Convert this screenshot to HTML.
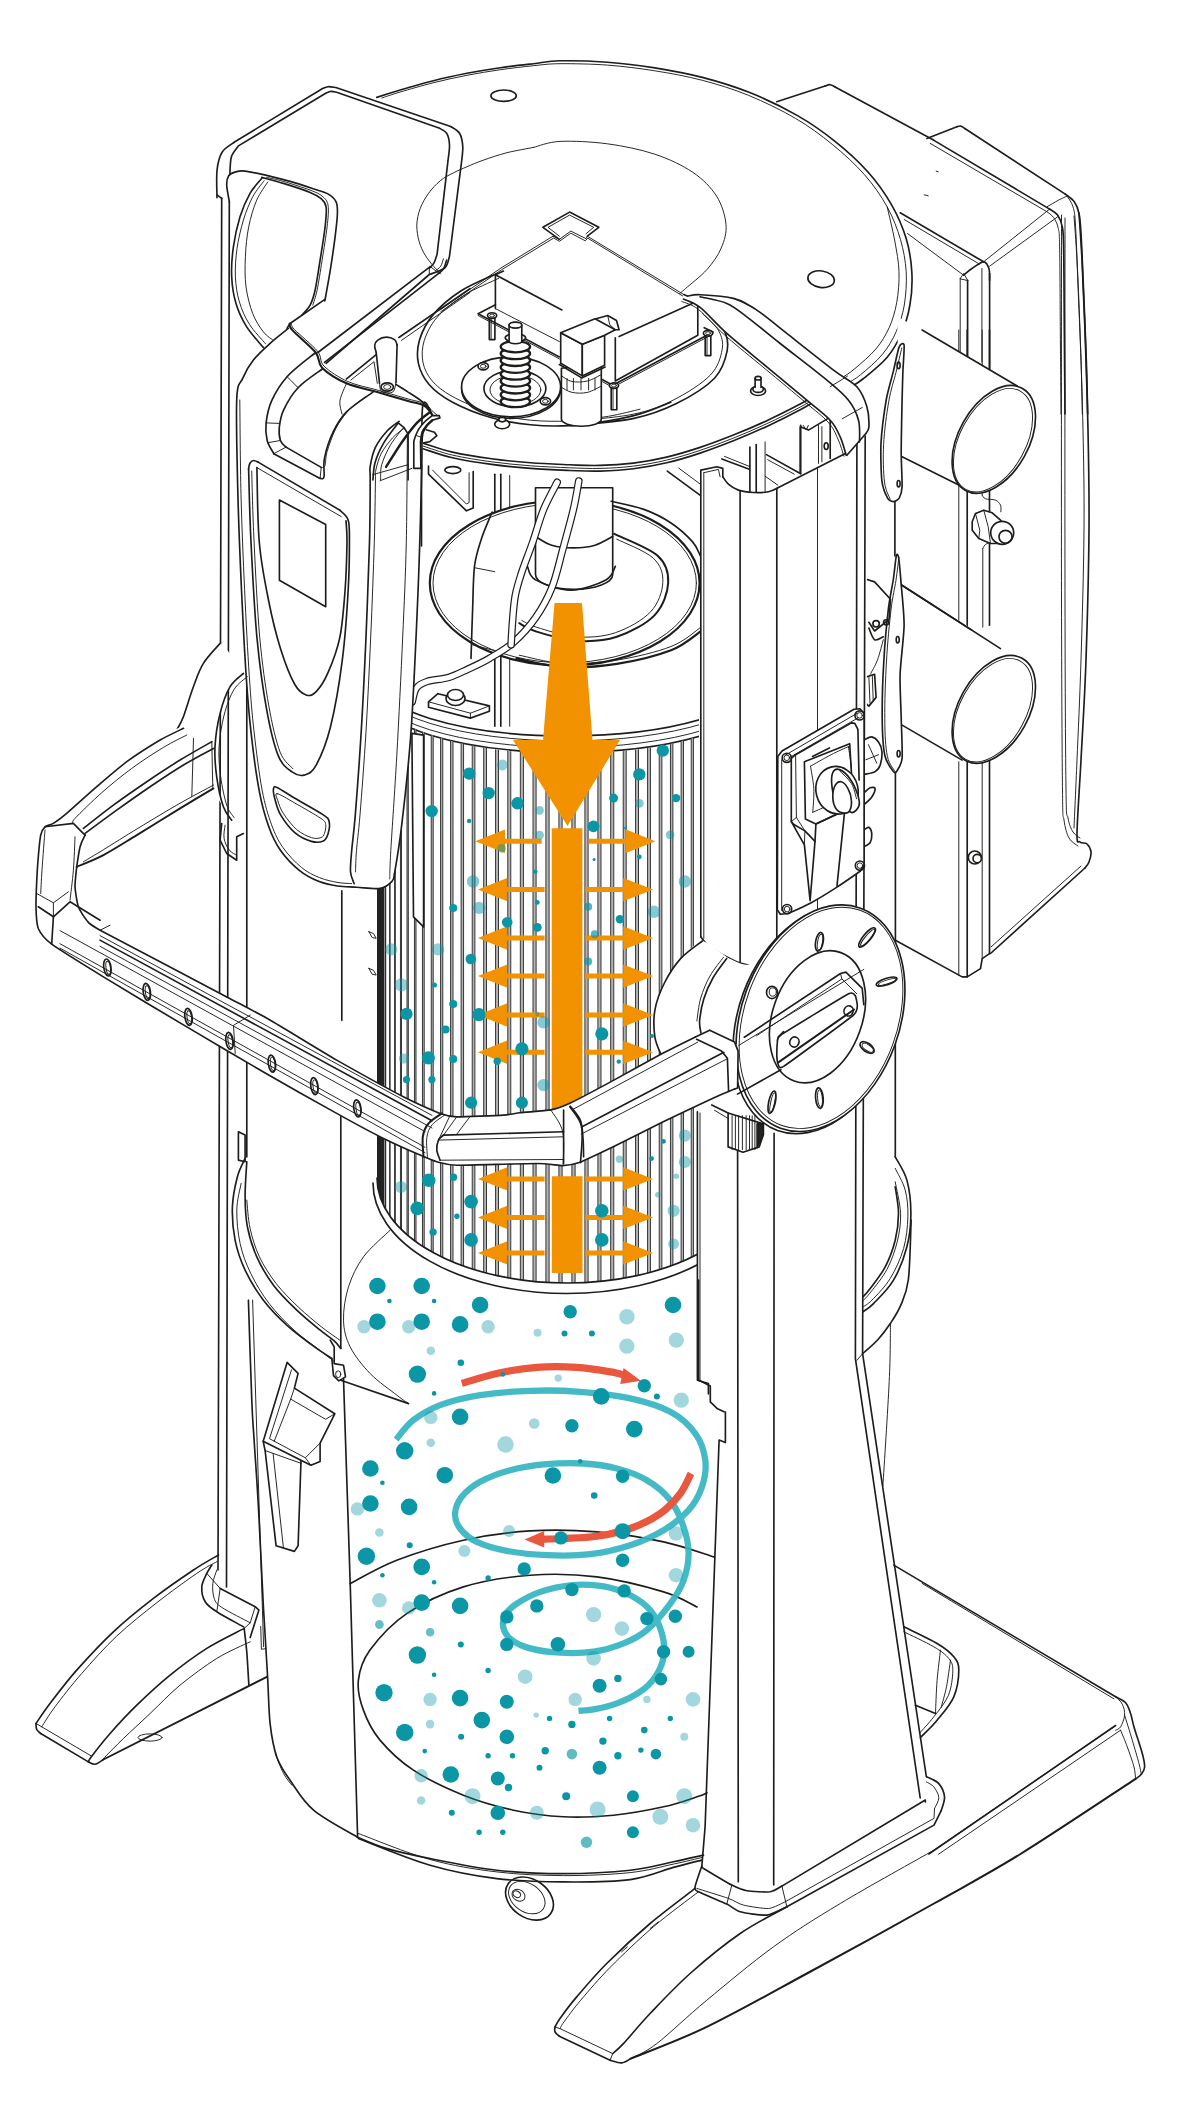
<!DOCTYPE html>
<html><head><meta charset="utf-8"><title>Filter cleaning diagram</title>
<style>
html,body{margin:0;padding:0;background:#fff}
svg{display:block}
.k{fill:none;stroke:#1d1d1b;stroke-width:1.65;stroke-linecap:round;stroke-linejoin:round}
.t{fill:none;stroke:#1d1d1b;stroke-width:0.95;stroke-linecap:round;stroke-linejoin:round}
.w{fill:#fff;stroke:#1d1d1b;stroke-width:1.65;stroke-linecap:round;stroke-linejoin:round}
.wt{fill:#fff;stroke:#1d1d1b;stroke-width:0.95;stroke-linecap:round;stroke-linejoin:round}
.wn{fill:#fff;stroke:none}
.o{fill:#f39200;stroke:none}
</style></head><body>
<svg width="1181" height="2126" viewBox="0 0 1181 2126">
<rect width="1181" height="2126" fill="#fff"/>
<g id="10_base">
<path class="k" d="M218.5 1555C214.3 1557.5 204.3 1562.8 193.5 1570C182.6 1577.3 166.8 1588.1 153.4 1598.4C140.1 1608.7 126.2 1619.8 113.4 1631.8C100.6 1643.7 87.3 1658.2 76.7 1670.1C66.1 1682.1 56.8 1694.6 50 1703.5C43.2 1712.4 38.3 1720.2 36 1723.5"/>
<path class="k" d="M36 1723.5C36.1 1724.5 35.9 1727.8 36.7 1729.5C37.5 1731.2 40 1732.8 40.7 1733.5"/>
<path class="k" d="M40.7 1733.5L88.4 1761.9"/>
<path class="k" d="M88.4 1761.9C89.5 1762.3 92.6 1764.6 95.1 1764.2C97.6 1763.8 102 1760.3 103.4 1759.5"/>
<path class="t" d="M216.8 1561.7C213.5 1563.6 206.8 1566.5 196.8 1573.4C186.8 1580.2 170.1 1592.3 156.8 1602.7C143.4 1613.2 129.3 1624.3 116.7 1636.1C104.2 1647.9 92 1661.7 81.7 1673.5C71.4 1685.2 61.7 1697.9 55 1706.8C48.4 1715.7 43.9 1723.5 41.7 1726.8"/>
<path class="t" d="M41.7 1726.8L91.7 1756.2"/>
<path class="t" d="M36 1723.5L41.7 1726.8"/>
<path class="k" d="M244.2 1628.4C238 1631.8 219.2 1640.7 206.8 1648.4C194.5 1656.2 181.8 1665.7 170.1 1675.1C158.4 1684.6 146.8 1695.4 136.8 1705.2C126.8 1714.9 117.6 1725 110.1 1733.5C102.6 1742 95.3 1751.5 91.7 1756.2C88.1 1760.9 88.9 1760.9 88.4 1761.9"/>
<path class="t" d="M250.2 1641.8C244.6 1644.5 228.5 1651.2 216.8 1658.4C205.2 1665.7 191.3 1676 180.1 1685.1C169 1694.3 159.6 1704.6 150.1 1713.5C140.7 1722.4 130.6 1731.6 123.4 1738.5C116.2 1745.5 110.4 1751.5 106.7 1755.2C103.1 1758.9 102.6 1759.9 101.7 1760.9"/>
<path class="k" d="M103.4 1759.5L266.9 1676.8" style="stroke-width:1.9"/>
<ellipse class="t" cx="150.1" cy="1737.5" rx="12" ry="3.6"/>
<path class="k" d="M211.8 1565C211 1566.4 208.5 1569.8 206.8 1573.4C205.2 1577 202.1 1582 201.8 1586.7C201.5 1591.4 202.7 1597.6 205.2 1601.7C207.7 1605.9 210.4 1607.6 216.8 1611.7C223.2 1615.9 239.1 1624.3 243.5 1626.8"/>
<path class="t" d="M216.8 1570C216.2 1572.3 213.3 1578.7 212.8 1583.4C212.4 1588.1 212.7 1594.4 214.2 1598.4C215.7 1602.4 215.8 1603.3 221.8 1607.4C227.8 1611.5 245.5 1620.2 250.2 1622.8"/>
<path class="k" d="M220.2 1588.4L255.2 1606.7L258.9 1610.1L250.2 1637.4"/>
<path class="t" d="M206.8 1573.4L220.2 1588.4L216.8 1611.7"/>
<path class="k" d="M244.2 1628.4C244.6 1632.6 246.1 1644 246.9 1653.4C247.6 1662.9 248.5 1679.9 248.9 1685.1"/>
<path class="t" d="M255.2 1606.7L250.2 1622.8L244.2 1628.4"/>
<path class="k" d="M893.8 1565.1L1115.6 1696.8"/>
<path class="t" d="M922.1 1583.4L1113.9 1698.8"/>
<path class="k" d="M1115.6 1696.8C1117.3 1697.8 1123.1 1700.1 1125.6 1702.8C1128.1 1705.6 1129.2 1709.5 1130.6 1713.5C1132 1717.5 1132 1720.2 1134 1726.9C1135.9 1733.5 1140.5 1746.9 1142.3 1753.5C1144.1 1760.2 1144.8 1763.4 1144.6 1766.9C1144.5 1770.3 1142.8 1772.2 1141.3 1774.2C1139.8 1776.2 1136.6 1778.1 1135.6 1778.9"/>
<path class="t" d="M1115.6 1696.8C1116.7 1698.1 1120.8 1701.1 1122.3 1704.2C1123.8 1707.2 1124.9 1711.4 1124.6 1715.2C1124.3 1719 1122.1 1724.4 1120.6 1726.9C1119.1 1729.4 1116.4 1729.6 1115.6 1730.2"/>
<path class="k" d="M1115.6 1725.5L928.8 1854"/>
<path class="t" d="M1120.6 1730.2L938.8 1854"/>
<path class="t" d="M1120.6 1730.2C1121.7 1733 1125.1 1740.8 1127.3 1746.9C1129.5 1753 1132.6 1761.6 1134 1766.9C1135.3 1772.2 1135.3 1776.9 1135.6 1778.9"/>
<path class="t" d="M1124.6 1715.2C1125.9 1719.3 1129.9 1732.1 1132.3 1740.2C1134.7 1748.3 1137.5 1757.9 1139 1763.6C1140.5 1769.2 1140.9 1772.4 1141.3 1774.2"/>
<path class="k" d="M903.8 1626.8C909.3 1629.6 928.8 1638.4 937.1 1643.5C945.5 1648.5 950.2 1652.3 953.8 1656.8C957.4 1661.2 958.8 1663.5 958.8 1670.1C958.8 1676.8 957.4 1688.5 953.8 1696.8C950.2 1705.2 942.7 1713.4 937.1 1720.2C931.6 1727 923.2 1734.6 920.4 1737.5"/>
<path class="t" d="M903.8 1631.8C908.8 1634.3 926.3 1642.3 933.8 1646.8C941.3 1651.2 945.6 1654.5 948.8 1658.5C952 1662.5 952.9 1664.7 952.8 1670.8C952.7 1676.9 951.6 1687.5 948.5 1695.2C945.3 1702.8 938.6 1710.6 933.8 1716.8C929 1723.1 922.1 1730.2 919.8 1732.9"/>
<path class="k" d="M915.4 1705.2L935.5 1713.5"/>
<path class="t" d="M940.5 1650.1C939.9 1655.1 938 1669.6 937.1 1680.2C936.3 1690.7 935.7 1708 935.5 1713.5"/>
<path class="t" d="M950.5 1660.1C949.8 1664.6 948 1678.9 946.5 1686.8C944.9 1694.7 942 1704.1 941.1 1707.5"/>
<path class="k" d="M695.1 1888.4C687.6 1894.3 664.8 1911 650.1 1923.5C635.4 1936 619 1951.3 606.7 1963.5C594.5 1975.7 584.5 1987.7 576.7 1996.9C568.9 2006 563.6 2013.5 560 2018.5C556.4 2023.6 555.8 2025.5 555 2026.9"/>
<path class="k" d="M555 2026.9C555 2027.7 554.3 2030.3 555 2031.9C555.7 2033.5 558.6 2035.5 559.3 2036.2"/>
<path class="k" d="M559.3 2036.2L610.1 2060.3"/>
<path class="k" d="M610.1 2060.3C612 2060.7 618.3 2063.2 621.7 2062.9C625.2 2062.6 629.2 2059.3 630.7 2058.6"/>
<path class="t" d="M698.5 1891.8C691 1897.6 668.1 1914.3 653.4 1926.8C638.8 1939.3 622.8 1954.6 610.7 1966.8C598.6 1979.1 588.5 1991 580.7 2000.2C572.9 2009.4 567.5 2017.2 564 2021.9C560.6 2026.6 560.7 2027.4 560 2028.6"/>
<path class="t" d="M555 2026.9L560 2028.6L612.7 2053.6L610.1 2060.3"/>
<path class="k" d="M786.9 1906.8C779.1 1911.2 756.3 1922.4 740.2 1933.5C724 1944.6 705.1 1960.2 690.1 1973.5C675.1 1986.9 661.2 2001.9 650.1 2013.5C639 2025.2 629.6 2036.9 623.4 2043.6C617.2 2050.2 614.5 2051.9 612.7 2053.6"/>
<path class="t" d="M934 1850.1C918.4 1859 867 1887.3 840.3 1903.5C813.5 1919.6 795.8 1930.7 773.5 1946.8C751.3 1962.9 726.3 1984.1 706.8 2000.2C687.3 2016.3 669.4 2033.8 656.8 2043.6C644.1 2053.3 635.1 2056.1 630.7 2058.6"/>
<path class="k" d="M630.7 2058.6C643.4 2053.3 677.4 2041.1 706.8 2026.9C736.2 2012.7 769 1994.1 806.9 1973.5C844.8 1952.9 898.4 1923.4 934 1903.5C969.6 1883.5 986.9 1874.7 1020.5 1854C1054.1 1833.2 1116.4 1791.4 1135.6 1778.9" style="stroke-width:2"/>
<path class="t" d="M650.1 1928.5L658.4 1921.8"/>
<path class="t" d="M621.7 1951.8L627.4 1946.8"/>
<path class="t" d="M934 1850.1L1115.6 1725.5"/>
<path class="t" d="M938.7 1854.1L938.8 1854"/>
</g>
<g id="12_topright">
<path class="k" d="M926.9 138.4L956.9 126.7"/>
<path class="k" d="M956.9 126.7C957.5 126.6 959.5 125.7 960.9 126.1C962.3 126.4 964.5 128.3 965.2 128.7"/>
<path class="k" d="M965.2 128.7L1065.3 194.1"/>
<path class="k" d="M1065.3 194.1C1066.8 195.4 1072 198.6 1074.3 201.8C1076.6 205 1077.9 208.2 1079 213.5C1080.1 218.7 1080.2 220.1 1081 233.5C1081.8 246.8 1082.8 272.4 1083.7 293.5C1084.5 314.7 1085.7 340.2 1086.3 360.3C1087 380.3 1087.4 405 1087.7 414"/>
<path class="t" d="M1047 206.8C1048.9 205.7 1055.3 201.9 1058.6 200.1C1062 198.3 1065.6 196.8 1067 196.1"/>
<path class="t" d="M1067 196.1C1068 197.9 1071.5 201.7 1073 206.8C1074.4 211.9 1074.8 212.3 1075.6 226.8C1076.5 241.3 1077.4 271.3 1078.3 293.5C1079.2 315.8 1080.3 340.2 1081 360.3C1081.7 380.3 1082.1 405 1082.3 414"/>
<path class="k" d="M933.5 140.1L1049.6 209.1"/>
<path class="t" d="M930.2 143.4L1047 211.8"/>
<path class="k" d="M1049.6 209.1C1051 210.1 1055.5 212.2 1057.6 215.1C1059.7 218.1 1061.3 221.5 1062.3 226.8C1063.3 232.1 1063.3 230.1 1063.6 246.8C1064 263.5 1064.1 299 1064.3 326.9C1064.5 354.7 1064.9 399.4 1065 414"/>
<path class="t" d="M1047 211.8C1048.1 212.7 1051.7 214.7 1053.6 217.5C1055.5 220.2 1057.3 223.6 1058.3 228.5C1059.3 233.4 1059.3 230.4 1059.6 246.8C1060 263.2 1060.1 299 1060.3 326.9C1060.5 354.7 1060.9 399.4 1061 414"/>
<path class="k" d="M776.7 101.7L825.1 86"/>
<path class="k" d="M825.1 86C825.9 85.8 828.4 84.5 830.1 84.7C831.8 84.9 834.3 86.6 835.1 87"/>
<path class="k" d="M835.1 87L933.5 140.1"/>
<path class="k" d="M900.2 212.8L983.6 261.8"/>
<path class="t" d="M904.2 219.5L979.6 264.2"/>
<path class="t" d="M907.5 233.5L963.6 275.2"/>
<path class="t" d="M983.6 261.8L1049.6 209.1"/>
<path class="t" d="M989.6 266.2L1057.6 216.8"/>
<path class="k" d="M963.6 275.2C964.9 274.1 968.6 270.7 971.9 268.5C975.2 266.3 980.7 261.8 983.6 261.8C986.4 261.8 987.9 265.4 988.9 268.5C989.9 271.6 989.5 278.2 989.6 280.2"/>
<path class="t" d="M960.2 278.5L963.6 273.5L967.6 280.2Z"/>
<path class="t" d="M960.2 278.5L960.2 361.9"/>
<path class="k" d="M967.6 280.2L967.6 361.9"/>
<path class="t" d="M981.9 268.5L981.9 361.9"/>
<path class="k" d="M989.6 273.5L989.6 368.6"/>
<path class="t" d="M936.2 171.1L938.2 171.8"/>
<path class="t" d="M924.2 194.8L928.2 195.8"/>
<path class="k" d="M376.8 97.4C380.7 96.1 390.7 92.8 400.2 90C409.6 87.2 422.4 83.5 433.5 80.7C444.6 77.9 455.8 75.5 466.9 73.3C478 71.2 489.1 69.3 500.3 67.7C511.4 66.1 523.7 64.8 533.6 63.7C543.6 62.5 547.7 61.1 560 60.8C572.3 60.6 591.6 61.1 607.4 62.2C623.2 63.4 639 65.4 654.8 67.9C670.6 70.5 686.4 73.3 702.3 77.4C718.1 81.5 733.9 86.3 749.7 92.6C765.5 98.9 782.9 107.2 797.1 115.4C811.3 123.5 823.2 131.9 835 141.4C846.9 150.9 858.7 161.6 868.2 172.3C877.7 182.9 885.6 194.4 891.9 205.4C898.2 216.5 902.8 227.6 906.2 238.6C909.5 249.7 911.2 260.8 911.8 271.8C912.5 282.9 911.7 294.8 909.9 305C908.2 315.3 905.2 324.8 901.4 333.5C897.6 342.2 893.5 349.7 887.2 357.2C880.9 364.7 869.8 373.4 863.5 378.5C857.2 383.7 851.6 386.4 849.3 388"/>
<path class="t" d="M381.8 98C384.9 97 391.5 94.6 400.2 92C408.8 89.5 422.4 85.5 433.5 82.7C444.6 79.9 455.8 77.5 466.9 75.3C478 73.2 489.1 71.3 500.3 69.7C511.4 68.1 523.7 66.7 533.6 65.7C543.6 64.7 547.7 63.8 560 63.7C572.3 63.6 591.6 63.9 607.4 65.1C623.2 66.3 639 68.3 654.8 70.8C670.6 73.3 686.6 76.2 702.3 80.3C717.9 84.4 733.2 89.1 748.7 95.4C764.2 101.8 781.3 110.1 795.2 118.2C809.1 126.3 820.6 134.9 832.2 144.3C843.7 153.7 855.3 164.2 864.4 174.6C873.6 185.1 881.2 196 887.2 206.9C893.2 217.7 897.3 228.8 900.5 239.6C903.6 250.4 905.5 260.9 906.2 271.8C906.8 282.7 905.9 295.1 904.3 305C902.6 315 899.8 323.4 896.2 331.6C892.6 339.8 888.4 347.1 882.4 354.3C876.5 361.5 866.6 369.8 860.6 374.7C854.7 379.6 849.2 382.2 846.9 383.7"/>
<path class="t" d="M887.2 206.9C888.4 212.6 892.8 230.2 894.8 241C896.7 251.8 898.7 261.6 899 271.8C899.4 282.1 898.3 293.3 896.7 302.7C895 312 892.6 320 889.1 327.8C885.6 335.5 881.5 342.3 875.8 349.1C870.1 355.9 860.6 363.7 854.9 368.6C849.3 373.4 843.9 376.5 841.7 378"/>
<path class="t" d="M533.6 147.4C538 146.4 547.7 142 560 141.4C572.3 140.8 591.6 141.7 607.4 143.8C623.2 145.9 640.6 149.5 654.8 154.2C669.1 159 682.5 165.3 692.8 172.3C703 179.2 710.9 187.3 716.5 196C722 204.7 725.2 215.7 726 224.4C726.8 233.1 724.4 240.6 721.2 248.1C718.1 255.6 712.9 262.7 707 269.5C701.1 276.2 690.2 284.4 685.7 288.4C681.1 292.5 680.5 292.8 679.5 293.6"/>
<ellipse class="k" cx="821.1" cy="279.2" rx="13.3" ry="8.3" transform="rotate(8 821.1 279.2)"/>
</g>
<g id="14_rightmid">
<path class="t" d="M958.8 330L958.8 630.3"/>
<path class="k" d="M967.2 330L967.2 630.3"/>
<path class="t" d="M982.2 330L982.2 495.1"/>
<path class="k" d="M989.5 330L989.5 636.9"/>
<path class="t" d="M982.2 495.1C982.7 495.7 983.3 498 985.5 498.8C987.7 499.6 993 499.1 995.5 500.1C998 501.2 999.6 503.2 1000.5 505.1C1001.4 507.1 1000.8 510.7 1000.8 511.8"/>
<path class="t" d="M1000.8 543.5C998.6 543.5 990.2 542.7 987.2 543.5C984.2 544.3 983.6 547.7 982.8 548.5"/>
<path class="t" d="M982.8 548.5L982.8 633.6"/>
<path class="wn" d="M897.1 316.7L922.1 330L1017.2 386.7L1035.5 413.4L968.8 490.1L900.4 456.1Z"/>
<path class="k" d="M922.1 330L1017.2 386"/>
<path class="k" d="M902.1 456.8L968.8 490.1"/>
<ellipse class="w" cx="993.8" cy="439.4" rx="58.4" ry="35" transform="rotate(-61 993.8 439.4)"/>
<ellipse class="t" cx="993" cy="440.2" rx="56.2" ry="32.8" transform="rotate(-61 993 440.2)"/>
<path class="w" d="M972.2 521.8L975.5 513.5L983.8 510.2L992.2 512.8L1000.5 520.2L1005.5 526.8L1000.5 543.5L990.5 543.5L978.8 538.5L972.2 530.2Z"/>
<path class="t" d="M975.5 513.5L979.8 530.2L978.8 538.5"/>
<path class="t" d="M983.8 510.2L988.2 526.8L990.5 543.5"/>
<ellipse class="w" cx="1002.2" cy="532.8" rx="11.5" ry="11.5"/>
<ellipse class="k" cx="1005.5" cy="536.8" rx="6.5" ry="6.5"/>
<path class="wn" d="M900.4 583.5L987.2 638.6L1020.5 660.3L1040.5 697L900.4 697Z"/>
<path class="k" d="M900.4 584.2L1000.5 648.6"/>
<path class="k" d="M1079 213C1079.5 220.8 1081 240.5 1082 260C1083 279.5 1084 301.7 1085 330C1086 358.3 1087.3 396.7 1088 430C1088.7 463.3 1089.3 491.7 1089 530C1088.7 568.3 1087.3 621.7 1086 660C1084.7 698.3 1082.5 731.2 1081 760C1079.5 788.8 1077.2 819.3 1077 833C1076.8 846.7 1078.3 840.2 1080 842C1081.7 843.8 1085.2 842.3 1087 844C1088.8 845.7 1090.7 849 1091 852C1091.3 855 1090 859.3 1089 862C1088 864.7 1085.7 867 1085 868"/>
<path class="t" d="M1074 216C1074.5 223.3 1076 241 1077 260C1078 279 1079 301.7 1080 330C1081 358.3 1082.3 396.7 1083 430C1083.7 463.3 1084.3 491.7 1084 530C1083.7 568.3 1082.2 621.7 1081 660C1079.8 698.3 1078.2 732 1077 760C1075.8 788 1074.5 816.7 1074 828"/>
<path class="k" d="M1085 868L990.5 953.5"/>
<path class="t" d="M1081 866L991 947"/>
<path class="t" d="M1061.5 215C1061.5 279.2 1061.3 504.2 1061.5 600C1061.7 695.8 1062.1 753.3 1062.5 790C1062.9 826.7 1062.9 812 1064 820C1065.1 828 1066.7 833.7 1069 838C1071.3 842.3 1076.5 844.7 1078 846"/>
<path class="t" d="M1065 218C1065 281.7 1064.8 504.7 1065 600C1065.2 695.3 1065.5 753.7 1066 790C1066.5 826.3 1066.8 811 1068 818C1069.2 825 1071 828.7 1073 832C1075 835.3 1078.8 837 1080 838"/>
<path class="k" d="M895.4 770.1L895.4 940.2L962.1 976.9L967.2 976.9L980.5 968.6L982.2 958.6L989.5 953.6"/>
<path class="t" d="M958.8 761.8L958.8 975.3"/>
<path class="k" d="M967.2 761.8L967.2 976.9"/>
<path class="t" d="M982.2 760.1L982.2 958.6"/>
<path class="k" d="M989.5 760.1L989.5 953.6"/>
<path class="wn" d="M902.1 725.1L902.1 646.7L1000.5 623.3L1035.5 683.4L967.2 760.1Z"/>
<path class="k" d="M902.1 725.1L962.1 760.1"/>
<path class="k" d="M900.4 584.2L1000.5 648.6"/>
<ellipse class="w" cx="993.8" cy="709.4" rx="58.4" ry="35" transform="rotate(-61 993.8 709.4)"/>
<ellipse class="t" cx="993" cy="710.2" rx="56.2" ry="32.8" transform="rotate(-61 993 710.2)"/>
<ellipse class="w" cx="974.8" cy="857.5" rx="6.5" ry="6.5"/>
<ellipse class="w" cx="977.2" cy="858.5" rx="4.2" ry="4.2"/>
</g>
<g id="20_topleft">
<path class="k" d="M217 197.7C217 193.2 216.2 178.1 217 170.5C217.8 162.9 219.1 156.9 222.1 152.2C225 147.4 232.5 143.7 234.5 142L322.2 88.7L322.2 88.7C323.1 88.4 325.7 86.9 328 86.7C330.3 86.5 334.5 87.4 335.8 87.5L450.7 126.5L450.7 126.5C452.2 127.6 457.6 130 459.7 133.5C461.7 136.9 462.5 141.9 462.8 147.1C463 152.3 461.5 161.7 461.2 164.6L449.5 256.2L449.5 256.2C448.8 258.1 448.2 264.8 444.9 267.9C441.5 270.9 431.9 273.4 429.3 274.5L326.1 363.3"/>
<path class="k" d="M229.9 174.4C230.1 171.5 230 161.6 231.4 156.8C232.8 152.1 237.3 147.8 238.4 145.9L326.1 93L326.1 93C326.9 92.7 329.4 91.5 331.1 91.4C332.9 91.3 335.7 92.1 336.6 92.2L439 128L439 128C440.3 128.9 445.1 130.6 446.8 133.5C448.6 136.3 449.3 140.6 449.5 145.2C449.7 149.7 448.2 158.1 448 160.7L437.1 254.2L437.1 254.2C436.6 255.7 435.3 260.5 434 262.8C432.7 265.1 430.1 267.3 429.3 268.2"/>
<path class="t" d="M429.3 268.2L429.3 274.5"/>
<path class="k" d="M229.4 201.8C228.9 199 226.8 189.4 226.7 185.1C226.6 180.8 227.3 177.9 228.7 175.8C230.1 173.6 232.3 172.9 235 172.1C237.8 171.3 239.8 170.5 245 171.1C250.3 171.6 259.2 173.7 266.7 175.4C274.2 177.2 282.3 179.2 290.1 181.4C297.9 183.7 307 186.7 313.4 188.8C319.8 190.9 324.7 191.9 328.4 194.1C332.2 196.3 334.6 198.6 336.1 201.8C337.6 205 337.6 207.6 337.4 213.5C337.3 219.3 336.2 227.9 335.1 236.8C334 245.7 332.2 257.9 330.8 266.8C329.4 275.7 327.8 284.5 326.8 290.2C325.8 295.9 325.1 299.1 324.8 300.9"/>
<path class="k" d="M261.7 177.4C265.3 178.4 275.3 180.9 283.4 183.4C291.5 185.9 303.9 189.9 310.1 192.4C316.3 194.9 318.1 196.1 320.8 198.4C323.4 200.8 325.4 202.1 326.1 206.8C326.8 211.5 326.1 217.9 325.1 226.8C324.1 235.7 321.8 249.6 320.1 260.2C318.4 270.7 316.8 282.7 315.1 290.2C313.4 297.7 312.3 301 310.1 305.2C307.9 309.4 303.1 313.5 301.8 315.2"/>
<path class="t" d="M266.7 177.4C269.5 178.1 276.2 179.3 283.4 181.4C290.6 183.5 303.6 187.7 310.1 190.1C316.5 192.6 319.1 193.6 322.1 196.1C325.1 198.7 327.3 200.3 328.1 205.5C328.9 210.6 328.1 217.7 327.1 226.8C326.1 235.9 323.8 249.6 322.1 260.2C320.4 270.7 318.7 282.7 317.1 290.2C315.5 297.7 313.5 302.7 312.8 305.2"/>
<path class="k" d="M261.7 178.4C259.8 180.9 253.7 187.1 250 193.4C246.4 199.8 242.8 207.9 240 216.8C237.3 225.7 234.8 236.8 233.4 246.8C232 256.8 231.2 267.4 231.7 276.8C232.1 286.3 233.5 295.2 236 303.5C238.5 311.9 242.1 319.5 246.7 326.9C251.3 334.2 260.6 344.1 263.4 347.6"/>
<path class="t" d="M264.1 180.8C262.2 183.4 256.2 190.2 252.7 196.8C249.3 203.3 246 211.5 243.4 220.1C240.8 228.8 238.4 239 237 248.5C235.7 257.9 235 268 235.4 276.8C235.8 285.7 237 294 239.4 301.9C241.7 309.8 245 317.3 249.4 324.2C253.7 331.2 262.7 340.3 265.4 343.6"/>
<path class="t" d="M267.7 182.1C265.9 185.1 259.9 192.7 256.7 200.1C253.5 207.6 250.6 217.4 248.7 226.8C246.8 236.3 245.8 246.8 245.4 256.8C244.9 266.8 244.8 277.4 246 286.9C247.3 296.3 249.8 306 252.7 313.5C255.6 321.1 259.8 327.3 263.4 331.9C266.9 336.5 272.3 339.4 274.1 340.9"/>
<path class="k" d="M217.3 195.1L221.7 198.4"/>
</g>
<g id="21_filtertop">
<path class="k" d="M494.8 474.2L494.8 726.2"/>
<path class="k" d="M500.8 474.2L500.8 726.2"/>
<path class="t" d="M509.7 475.5L509.7 726.2"/>
<ellipse class="w" cx="564.7" cy="583.1" rx="134.9" ry="82.6" style="stroke-width:2.2"/>
<ellipse class="t" cx="564.7" cy="583.1" rx="131.7" ry="79.7"/>
<path class="k" d="M516.5 658.4C524.2 659.9 545.9 666.2 562.6 667.1C579.3 668 598.7 666.7 616.8 663.9C634.8 661.1 657 655.7 671 650.3C685 644.9 695.8 634.5 700.8 631.3" style="stroke-width:2.2"/>
<path class="t" d="M519.2 655.2C526.4 656.5 546.3 662.5 562.6 663.3C578.8 664.1 598.7 662.9 616.8 660.1C634.8 657.3 657 652 671 646.5C685 641.1 695.8 630.5 700.8 627.3"/>
<path class="k" d="M614.1 533.8C621.3 537.4 648.4 547.4 657.4 555.5C666.4 563.6 668.7 572.6 668.2 582.6C667.8 592.5 663.3 606.1 654.7 615.1C646.1 624.1 629.9 632.5 616.8 636.8C603.7 641.1 589.7 641.7 576.1 640.8C562.6 639.9 545 634.3 535.5 631.3C526 628.4 521.9 624.6 519.2 623.2" style="stroke-width:2"/>
<path class="t" d="M616.8 539.2C622.9 542.4 645.7 551 653.3 558.2C661 565.4 663.3 573.6 662.8 582.6C662.4 591.5 658.5 603.5 650.6 611.8C642.7 620.2 627.8 628.5 615.4 632.7C603 636.9 589.2 637.7 576.1 636.8C563 635.9 545.9 630 536.8 627.3C527.8 624.6 524.4 621.6 521.9 620.5"/>
<path class="w" d="M535.5 487.7L535.5 574.4A38.5 14.9 0 0 0 612.7 574.4L612.7 487.7Z"/>
<path class="k" d="M535.5 536.5C538.2 538 545.4 543.3 551.7 545.2C558.1 547.1 566.2 547.9 573.4 547.9C580.6 547.9 588.5 547.1 595.1 545.2C601.6 543.3 609.8 538 612.7 536.5"/>
<path class="k" d="M527.4 566.3C528.7 568.6 528.3 575.9 535.5 579.9C542.7 583.8 559 590.2 570.7 590.2C582.4 590.2 598.5 583.8 605.9 579.9C613.4 575.9 613.8 568.6 615.4 566.3"/>
<path class="k" d="M611.3 501.3C616.8 502.6 633.9 505.8 643.9 509.4C653.8 513 662.8 517.5 671 523C679.1 528.4 687.8 536.5 692.6 541.9C697.5 547.4 699 553.2 700.2 555.5"/>
<path class="k" d="M492.1 512.1C490.3 516.6 484.2 530.2 481.3 539.2C478.4 548.3 476 554.6 474.5 566.3C473.1 578.1 473.2 594.3 472.6 609.7C472 625 471.3 650.3 471 658.4"/>
<path class="t" d="M474.5 567.7L494.8 571.7"/>
<path class="t" d="M472.6 644.9L493.5 650.3"/>
<path class="k" d="M578.8 481C577.9 485.7 576.1 497.9 573.4 509.4C570.7 520.9 566.2 537 562.6 550.1C559 563.2 556.3 576.7 551.7 588C547.2 599.3 541.8 608.8 535.5 617.8C529.2 626.8 521.5 635.4 513.8 642.2C506.1 649 497.1 653.9 489.4 658.4C481.7 663 474.5 666.1 467.7 669.3C461 672.4 455.5 675.4 448.8 677.4C442 679.4 432.5 679.7 427.1 681.5C421.7 683.3 418.7 684.9 416.3 688.2C413.8 691.6 412.9 699.5 412.2 701.8" style="stroke-width:7.6"/>
<path class="k" d="M578.8 481C577.9 485.7 576.1 497.9 573.4 509.4C570.7 520.9 566.2 537 562.6 550.1C559 563.2 556.3 576.7 551.7 588C547.2 599.3 541.8 608.8 535.5 617.8C529.2 626.8 521.5 635.4 513.8 642.2C506.1 649 497.1 653.9 489.4 658.4C481.7 663 474.5 666.1 467.7 669.3C461 672.4 455.5 675.4 448.8 677.4C442 679.4 432.5 679.7 427.1 681.5C421.7 683.3 418.7 684.9 416.3 688.2C413.8 691.6 412.9 699.5 412.2 701.8" style="stroke:#fff;stroke-width:5.2"/>
<path class="k" d="M557.2 482.3C554.9 486.8 547.7 499.5 543.6 509.4C539.5 519.4 536.4 531.5 532.8 541.9C529.2 552.3 524.9 562.7 521.9 571.7C519 580.8 516.7 587.5 515.2 596.1C513.6 604.7 513.1 615.1 512.4 623.2C511.8 631.3 511.3 641.3 511.1 644.9" style="stroke-width:7.6"/>
<path class="k" d="M557.2 482.3C554.9 486.8 547.7 499.5 543.6 509.4C539.5 519.4 536.4 531.5 532.8 541.9C529.2 552.3 524.9 562.7 521.9 571.7C519 580.8 516.7 587.5 515.2 596.1C513.6 604.7 513.1 615.1 512.4 623.2C511.8 631.3 511.3 641.3 511.1 644.9" style="stroke:#fff;stroke-width:5.2"/>
<path class="k" d="M428.5 466.1L428.5 474.2L466.4 510.8L473.2 508.1L473.2 471.5"/>
<path class="t" d="M432.5 470.1L466.4 504L469.1 502.6L469.1 472.8"/>
<ellipse class="k" cx="452.8" cy="470.1" rx="8" ry="3.5"/>
<path class="w" d="M428.5 701.8L437.9 693.7L489.4 705.9L489.4 711.3L470.4 718.1L428.5 707.2Z"/>
<path class="t" d="M428.5 701.8L470.4 713.2L489.4 705.9"/>
<path class="t" d="M470.4 713.2L470.4 718.1"/>
<ellipse class="w" cx="455.5" cy="698.5" rx="9.5" ry="7"/>
<ellipse class="w" cx="455.5" cy="695" rx="8" ry="5.5"/>
<clipPath id="rimclip"><rect x="411" y="690" width="288" height="80"/></clipPath>
<path class="k" d="M373 676 A194 60 0 0 0 761 676" clip-path="url(#rimclip)"/>
<path class="t" d="M373 681 A194 60 0 0 0 761 681" clip-path="url(#rimclip)"/>
<path class="t" d="M373 687.5 A194 60 0 0 0 761 687.5" clip-path="url(#rimclip)"/>
<path class="k" d="M373 692.5 A194 60 0 0 0 761 692.5" clip-path="url(#rimclip)"/>
</g>
<g id="22_topcenter">
<ellipse class="k" cx="503.6" cy="95.7" rx="12.7" ry="5.7"/>
<path class="t" d="M533.6 147.4C529.2 148.3 515.3 150.6 506.9 152.7C498.6 154.9 490.2 157.7 483.6 160.1C476.9 162.4 471.9 164.6 466.9 166.8C461.9 168.9 458 170.4 453.5 172.8C449.1 175.1 444.4 177.3 440.2 180.8C436 184.2 431.9 188.8 428.5 193.4C425.2 198.1 422.1 203.2 420.2 208.5C418.2 213.7 417 219.6 416.8 225.1C416.7 230.7 417.8 236.8 419.2 241.8C420.6 246.8 422.8 251.1 425.2 255.2C427.6 259.2 430.9 263.1 433.5 266.2C436.1 269.2 439.6 272.3 440.9 273.5"/>
<path class="t" d="M440 309.9L501 268L553 236.2L559.4 239.3L570.8 231.1L586.1 238.7L587.3 236.2L683.9 294.6"/>
<path class="t" d="M440.8 311.6L501.7 269.7L553.8 238L559.4 241.3L570.8 233.2L585.3 240.8L587.8 238.2L682.6 295.9"/>
<path class="k" d="M559.4 239.3L542.9 227.3L569.6 212.1L598.8 227.3L587.3 236.2"/>
<path class="t" d="M559.4 236.2L548 227.3L569.6 215.1L593.7 227.3L586.1 233.7"/>
<path class="k" d="M496.3 273.7C490.3 276.6 471 284.4 460.4 291.2C449.9 298 440 306.5 433.2 314.6C426.4 322.7 422 331.8 419.5 339.9C417.1 348 416.8 355.8 418.4 363.3C420 370.7 423.6 378.2 429.3 384.7C435 391.2 442.3 396.7 452.6 402.2C463 407.8 478.6 414 491.6 417.8C504.6 421.6 517.6 423.5 530.5 424.8C543.5 426.1 556.5 426.3 569.5 425.6C582.5 425 596.7 422.9 608.4 420.9C620.2 419 629.6 417 640 413.9C650.4 410.8 665.6 404.2 670.8 402.2"/>
<path class="t" d="M498.6 278.4C492.8 281.2 473.8 289 463.6 295.5C453.3 302 443.6 309.8 437.1 317.3C430.5 324.9 426.6 333.2 424.2 340.7C421.9 348.2 421.6 355.6 423 362.5C424.5 369.4 427.7 376 433.2 382C438.6 388 445.8 393.1 455.8 398.3C465.8 403.5 480.7 409.5 493.2 413.1C505.6 416.8 517.8 418.9 530.5 420.2C543.3 421.4 556.5 421.6 569.5 420.9C582.5 420.3 596.7 418.2 608.4 416.3C620.2 414.3 634.7 410.4 640 409.2"/>
<path class="k" d="M570.5 425.6C581.1 424.4 616.4 422.1 634 418.4C651.7 414.7 663 410.3 676.4 403.6C689.8 396.9 706 387 714.5 378.2C722.9 369.4 725.6 358.8 727.2 350.7C728.7 342.5 727.3 336.2 723.8 329.5C720.2 322.8 709 313.6 706 310.4"/>
<path class="t" d="M570.5 421.4C581 420.2 616 417.8 633.2 414.2C650.4 410.6 661 406.3 673.8 399.8C686.7 393.3 702.2 383.5 710.2 375.2C718.3 366.9 720.7 357.2 722.1 349.8C723.5 342.4 721.9 336.8 718.7 330.8C715.5 324.8 705.3 316.6 702.6 313.8"/>
<ellipse class="w" cx="758.1" cy="390.9" rx="7.5" ry="4.6"/>
<ellipse class="w" cx="758.1" cy="389.2" rx="5.2" ry="3.2"/>
<path class="w" d="M755.1 387.5L755.1 378.2L761 378.2L761 387.5"/>
<ellipse class="w" cx="758.1" cy="378.2" rx="3" ry="1.8"/>
<path class="k" d="M495.4 308.6L495.4 274.8L503.5 271"/>
<path class="k" d="M495.4 274.8L561.9 309.9"/>
<path class="t" d="M495.4 308.6L559.4 341.6"/>
<path class="k" d="M619.1 336.5L697.8 301L697.8 335.3L615.3 381L615.3 337.8"/>
<path class="k" d="M683.9 294.6L697.8 301"/>
<path class="k" d="M495.4 304.8L478.1 313.7L559.4 356.9"/>
<path class="t" d="M478.1 315.5L559.4 358.9"/>
<path class="k" d="M602.6 379.7L612.7 385.3L713.1 332L704.2 327.7"/>
<path class="t" d="M602.6 381.8L612.7 387.3L713.1 334"/>
<ellipse class="w" cx="492.1" cy="315.5" rx="4.6" ry="2.8"/>
<ellipse class="t" cx="492.1" cy="315.5" rx="2.4" ry="1.5"/>
<path class="k" d="M489.3 318L489.3 339.6L494.9 339.6L494.9 318"/>
<path class="t" d="M491.1 318.5L491.1 339.6"/>
<ellipse class="w" cx="614" cy="385.6" rx="4.6" ry="2.8"/>
<ellipse class="t" cx="614" cy="385.6" rx="2.4" ry="1.5"/>
<path class="k" d="M611.2 388.1L611.2 409.7L616.8 409.7L616.8 388.1"/>
<path class="t" d="M613 388.6L613 409.7"/>
<ellipse class="w" cx="708" cy="333.2" rx="4.6" ry="2.8"/>
<ellipse class="t" cx="708" cy="333.2" rx="2.4" ry="1.5"/>
<path class="k" d="M705.2 335.8L705.2 355.6L710.8 355.6L710.8 335.8"/>
<path class="t" d="M707 336.3L707 355.6"/>
<ellipse class="k" cx="511.1" cy="388.4" rx="49.5" ry="30"/>
<ellipse class="w" cx="511.1" cy="386.8" rx="49.5" ry="30"/>
<ellipse class="k" cx="514.9" cy="388.6" rx="31" ry="18.3"/>
<ellipse class="t" cx="515.4" cy="389.9" rx="25.4" ry="14.7"/>
<ellipse class="w" cx="483.2" cy="366.3" rx="5.2" ry="3.6"/>
<ellipse class="t" cx="483.2" cy="366.3" rx="2.8" ry="1.9"/>
<ellipse class="w" cx="545.4" cy="401.3" rx="5.2" ry="3.6"/>
<ellipse class="t" cx="545.4" cy="401.3" rx="2.8" ry="1.9"/>
<ellipse class="w" cx="515.4" cy="401.6" rx="14.7" ry="5.6" style="stroke-width:2.3"/>
<ellipse class="w" cx="515.4" cy="394.7" rx="14.7" ry="5.6" style="stroke-width:2.3"/>
<ellipse class="w" cx="515.4" cy="387.9" rx="14.7" ry="5.6" style="stroke-width:2.3"/>
<ellipse class="w" cx="515.4" cy="381" rx="14.7" ry="5.6" style="stroke-width:2.3"/>
<ellipse class="w" cx="515.4" cy="374.1" rx="14.7" ry="5.6" style="stroke-width:2.3"/>
<ellipse class="w" cx="515.4" cy="367.3" rx="14.7" ry="5.6" style="stroke-width:2.3"/>
<ellipse class="w" cx="515.4" cy="360.4" rx="14.7" ry="5.6" style="stroke-width:2.3"/>
<ellipse class="w" cx="515.4" cy="353.6" rx="14.7" ry="5.6" style="stroke-width:2.3"/>
<ellipse class="w" cx="515.4" cy="346.7" rx="14.7" ry="5.6" style="stroke-width:2.3"/>
<ellipse class="w" cx="515.4" cy="337.8" rx="10.2" ry="4.1"/>
<path class="w" d="M509.1 325.1L509.1 341.6A6.4 2.5 0 0 0 521.8 341.6L521.8 325.1A6.4 3 0 0 0 509.1 325.1Z"/>
<ellipse class="w" cx="515.4" cy="325.1" rx="6.4" ry="3"/>
<path class="w" d="M561.4 368.3L561.4 419.1A19.8 7.1 0 0 0 601.3 419.1L601.3 363.2Z"/>
<path class="t" d="M561.4 387.3C563.2 388.2 567.8 391.6 572.1 392.4C576.4 393.3 582.5 393.5 587.3 392.4C592.2 391.4 599 387.1 601.3 386.1"/>
<path class="t" d="M561.4 375.9C563.2 376.8 567.8 380.7 572.1 381.5C576.4 382.4 582.5 382.1 587.3 381C592.2 379.9 599 375.7 601.3 374.6"/>
<path class="t" d="M567 378.5L567 389.9"/>
<path class="t" d="M573.4 378.5L573.4 389.9"/>
<path class="t" d="M581 378.5L581 389.9"/>
<path class="t" d="M588.6 378.5L588.6 389.9"/>
<path class="t" d="M595 378.5L595 389.9"/>
<path class="w" d="M560.7 332.7L560.7 363.2L582.3 375.9L582.3 344.2Z"/>
<path class="w" d="M582.3 344.2L582.3 375.9L604.6 365.2L604.6 335.3Z"/>
<path class="w" d="M560.7 332.7L595 318.8L615.3 329.7L604.6 335.3L582.3 344.2Z"/>
<path class="k" d="M559.4 364.5L581.7 377.9L605.1 367"/>
<path class="k" d="M596.2 318.8L607.7 315.5L616.5 320.5L619.1 329.7L615.3 329.7"/>
<path class="t" d="M607.7 315.5L609.7 324.6L615.3 329.7"/>
<ellipse class="w" cx="502.2" cy="424.2" rx="7.5" ry="4.5"/>
<ellipse class="w" cx="502.2" cy="419.6" rx="3.5" ry="2.2"/>
</g>
<g id="23_drum">
<path class="k" d="M350 1583.6C357.8 1579.7 377.8 1567.5 396.7 1560.2C415.6 1553 441.2 1545.1 463.4 1540.2C485.7 1535.3 507.9 1532.3 530.2 1530.9C552.4 1529.5 574.6 1530 596.9 1531.9C619.1 1533.7 644.2 1537.7 663.6 1541.9C683.1 1546.1 705.3 1554.4 713.7 1556.9"/>
<path class="k" d="M697 1606.9C691.4 1604.4 680.3 1596.9 663.6 1591.9C646.9 1586.9 619.1 1579.7 596.9 1576.9C574.6 1574.1 552.4 1573.6 530.2 1575.2C507.9 1576.9 484 1580.5 463.4 1586.9C442.9 1593.3 422.3 1603.1 406.7 1613.6C391.2 1624.1 378.1 1639 370 1650C362 1661.1 359.5 1670.1 358.4 1680.1C357.2 1690.1 359.7 1700.1 363.4 1710.1C367 1720.1 371.7 1730.1 380 1740.1C388.4 1750.1 399.5 1761 413.4 1770.1C427.3 1779.3 446.8 1788.5 463.4 1795.2C480.1 1801.8 496.8 1806.6 513.5 1810.2C530.2 1813.8 546.8 1816 563.5 1816.8C580.2 1817.7 596.9 1816.8 613.6 1815.2C630.3 1813.5 649.7 1809.9 663.6 1806.8C677.5 1803.8 689.7 1799.2 697 1796.8C704.2 1794.5 705.3 1793.5 707 1792.8"/>
<path class="k" d="M356.9 1836.9C362 1838.9 374.8 1845 387 1848.6C399.2 1852.2 411.8 1854.9 430.1 1858.5C448.4 1862.2 474.6 1867.7 496.8 1870.2C519 1872.7 541.3 1873.6 563.5 1873.6C585.8 1873.6 611.9 1872.2 630.3 1870.2C648.6 1868.3 661.2 1864.3 673.4 1861.8C685.6 1859.2 698.5 1856.2 703.5 1855.1"/>
<path class="k" d="M358.4 1838.5C370.3 1843 407 1858.5 430.1 1865.2C453.2 1871.9 474.6 1875.8 496.8 1878.6C519 1881.3 541.3 1881.7 563.5 1881.9C585.8 1882.1 611.9 1882 630.3 1879.6C648.6 1877.2 661.5 1870.7 673.4 1867.4C685.4 1864.2 697.1 1861.3 701.8 1860.1"/>
<path class="t" d="M358.4 1833.5C370.3 1837.9 407 1853.2 430.1 1859.5C453.2 1865.9 474.6 1869.2 496.8 1871.9C519 1874.6 541.3 1875.5 563.5 1875.6C585.8 1875.7 611.9 1874.5 630.3 1872.6C648.6 1870.6 661.4 1866.6 673.4 1864.1C685.5 1861.6 697.6 1858.5 702.5 1857.4"/>
<path class="k" d="M248.4 1300.2C249 1316.8 250.8 1376.9 251.8 1400.3C252.7 1423.6 253 1422.3 254.1 1440C255.2 1457.7 256.9 1478.9 258.4 1506.7C260 1534.5 261.9 1579 263.4 1606.8C264.9 1634.6 266.3 1654.1 267.4 1673.5C268.6 1693 268.6 1709.7 270.1 1723.6C271.7 1737.5 273.5 1747.5 276.8 1756.9C280.1 1766.4 284 1771.4 290.1 1780.3C296.3 1789.2 302.4 1800.8 313.6 1810.2C324.7 1819.7 349.7 1832.5 356.9 1836.9"/>
<path class="t" d="M275.2 1753.5C276.6 1756.9 280.8 1768.3 283.6 1773.5C286.3 1778.8 290.5 1783.3 291.9 1785.2"/>
<path class="k" d="M343.5 1378.6L350.2 1583.5L357.6 1836.9"/>
<path class="t" d="M390.2 1230.1C385.8 1234.6 370.5 1247.3 363.5 1256.8C356.6 1266.2 351.9 1276.3 348.5 1286.8C345.2 1297.4 343.2 1310.2 343.5 1320.2C343.8 1330.2 345.7 1338 350.2 1346.9C354.6 1355.8 362.4 1365.5 370.2 1373.6C378 1381.6 390.5 1390.2 396.9 1395.2C403.3 1400.3 406.6 1402.2 408.6 1403.6"/>
<path class="k" d="M340.8 1380.2L408.6 1403.6"/>
<path class="k" d="M698.6 1280L698.6 1380.1L710.3 1386.1L710.3 1401.8L717 1408.4L724 1411.8L725.4 1412.1L725.4 1442.6L719.1 1440L705.1 1826.7L701.8 1866.8"/>
<ellipse class="k" cx="529.5" cy="1898.6" rx="26" ry="19" transform="rotate(35 529.5 1898.6)"/>
<ellipse class="t" cx="526.8" cy="1897.6" rx="20" ry="14" transform="rotate(35 526.8 1897.6)"/>
<ellipse class="t" cx="518.5" cy="1895.2" rx="7" ry="5.5" transform="rotate(35 518.5 1895.2)"/>
<ellipse class="t" cx="516.8" cy="1894.2" rx="4" ry="3" transform="rotate(35 516.8 1894.2)"/>
</g>
<g id="24_filter">
<clipPath id="fclip"><path d="M377 691 A190 63 0 0 0 757 691 L757 1178 A190 105 0 0 1 377 1178 Z"/></clipPath>
<g clip-path="url(#fclip)"><rect x="376.5" y="860" width="8" height="350" fill="#222"/><rect x="385" y="690" width="1.2" height="600" fill="#2a2a2a"/><rect x="389.1" y="690" width="1.5" height="600" fill="#2a2a2a"/><rect x="394.1" y="690" width="1.7" height="600" fill="#2a2a2a"/><rect x="400.4" y="690" width="1.1" height="600" fill="#b4b4b4" stroke="#262626" stroke-width="0.9"/><rect x="407" y="690" width="1.3" height="600" fill="#b4b4b4" stroke="#262626" stroke-width="0.9"/><rect x="414.4" y="690" width="1.6" height="600" fill="#b4b4b4" stroke="#262626" stroke-width="0.9"/><rect x="422.4" y="690" width="1.8" height="600" fill="#b4b4b4" stroke="#262626" stroke-width="0.9"/><rect x="431.2" y="690" width="2" height="600" fill="#b4b4b4" stroke="#262626" stroke-width="0.9"/><rect x="440.6" y="690" width="2.2" height="600" fill="#b4b4b4" stroke="#262626" stroke-width="0.9"/><rect x="450.6" y="690" width="2.4" height="600" fill="#b4b4b4" stroke="#262626" stroke-width="0.9"/><rect x="461.1" y="690" width="2.5" height="600" fill="#b4b4b4" stroke="#262626" stroke-width="0.9"/><rect x="472.2" y="690" width="2.7" height="600" fill="#b4b4b4" stroke="#262626" stroke-width="0.9"/><rect x="483.7" y="690" width="2.8" height="600" fill="#b4b4b4" stroke="#262626" stroke-width="0.9"/><rect x="495.6" y="690" width="2.9" height="600" fill="#b4b4b4" stroke="#262626" stroke-width="0.9"/><rect x="507.8" y="690" width="3" height="600" fill="#b4b4b4" stroke="#262626" stroke-width="0.9"/><rect x="520.3" y="690" width="3.1" height="600" fill="#b4b4b4" stroke="#262626" stroke-width="0.9"/><rect x="533" y="690" width="3.1" height="600" fill="#b4b4b4" stroke="#262626" stroke-width="0.9"/><rect x="545.9" y="690" width="3.2" height="600" fill="#b4b4b4" stroke="#262626" stroke-width="0.9"/><rect x="558.9" y="690" width="3.2" height="600" fill="#b4b4b4" stroke="#262626" stroke-width="0.9"/><rect x="571.9" y="690" width="3.2" height="600" fill="#b4b4b4" stroke="#262626" stroke-width="0.9"/><rect x="584.9" y="690" width="3.2" height="600" fill="#b4b4b4" stroke="#262626" stroke-width="0.9"/><rect x="597.9" y="690" width="3.1" height="600" fill="#b4b4b4" stroke="#262626" stroke-width="0.9"/><rect x="610.7" y="690" width="3.1" height="600" fill="#b4b4b4" stroke="#262626" stroke-width="0.9"/><rect x="623.2" y="690" width="3" height="600" fill="#b4b4b4" stroke="#262626" stroke-width="0.9"/><rect x="635.6" y="690" width="2.9" height="600" fill="#b4b4b4" stroke="#262626" stroke-width="0.9"/><rect x="647.6" y="690" width="2.8" height="600" fill="#b4b4b4" stroke="#262626" stroke-width="0.9"/><rect x="659.2" y="690" width="2.7" height="600" fill="#b4b4b4" stroke="#262626" stroke-width="0.9"/><rect x="670.4" y="690" width="2.5" height="600" fill="#b4b4b4" stroke="#262626" stroke-width="0.9"/><rect x="681.1" y="690" width="2.4" height="600" fill="#b4b4b4" stroke="#262626" stroke-width="0.9"/><rect x="691.2" y="690" width="2.2" height="600" fill="#b4b4b4" stroke="#262626" stroke-width="0.9"/></g>
<clipPath id="fclip2"><rect x="360" y="1100" width="337.4" height="220"/></clipPath>
<g clip-path="url(#fclip2)">
<path class="k" d="M377 1178 A190 105 0 0 0 757 1178"/>
<path class="k" d="M373 1183 A194 110.5 0 0 0 761 1183"/>
</g>
</g>
<g id="26_arrows">
<path class="o" d="M554.5 603L582 603L592.5 740L620 740L567.5 826L513 740L543 740Z"/>
<path class="o" d="M551.7 828.2L582.4 828.2L582.4 1140L551.7 1140Z"/>
<path class="o" d="M551.8 1176.2L582.5 1176.2L582.5 1273L551.8 1273Z"/>
<path class="o" d="M475.2 841.2L505 829.5L505 838.7L541.7 838.7L541.7 843.7L505 843.7L505 852.9Z"/>
<path class="o" d="M655.3 841.2L626 829.5L626 838.7L588.6 838.7L588.6 843.7L626 843.7L626 852.9Z"/>
<path class="o" d="M477.9 889.6L507.2 877.9L507.2 887.1L544.6 887.1L544.6 892.1L507.2 892.1L507.2 901.3Z"/>
<path class="o" d="M653.1 889.6L623.2 877.9L623.2 887.1L585.3 887.1L585.3 892.1L623.2 892.1L623.2 901.3Z"/>
<path class="o" d="M477.9 938L507.2 926.3L507.2 935.5L544.6 935.5L544.6 940.5L507.2 940.5L507.2 949.7Z"/>
<path class="o" d="M653.1 938L623.2 926.3L623.2 935.5L585.3 935.5L585.3 940.5L623.2 940.5L623.2 949.7Z"/>
<path class="o" d="M477.9 976.1L507.2 964.4L507.2 973.6L544.6 973.6L544.6 978.6L507.2 978.6L507.2 987.8Z"/>
<path class="o" d="M653.1 976.1L623.2 964.4L623.2 973.6L585.3 973.6L585.3 978.6L623.2 978.6L623.2 987.8Z"/>
<path class="o" d="M477.9 1015L507.2 1003.3L507.2 1012.5L544.6 1012.5L544.6 1017.5L507.2 1017.5L507.2 1026.7Z"/>
<path class="o" d="M653.1 1015L623.2 1003.3L623.2 1012.5L585.3 1012.5L585.3 1017.5L623.2 1017.5L623.2 1026.7Z"/>
<path class="o" d="M477.9 1052.3L507.2 1040.6L507.2 1049.8L544.6 1049.8L544.6 1054.8L507.2 1054.8L507.2 1064Z"/>
<path class="o" d="M653.1 1052.3L623.2 1040.6L623.2 1049.8L585.3 1049.8L585.3 1054.8L623.2 1054.8L623.2 1064Z"/>
<path class="o" d="M477.9 1178.9L507.2 1167.2L507.2 1176.4L544.6 1176.4L544.6 1181.4L507.2 1181.4L507.2 1190.6Z"/>
<path class="o" d="M653.1 1178.9L623.2 1167.2L623.2 1176.4L585.3 1176.4L585.3 1181.4L623.2 1181.4L623.2 1190.6Z"/>
<path class="o" d="M477.9 1217.4L507.2 1205.7L507.2 1214.9L544.6 1214.9L544.6 1219.9L507.2 1219.9L507.2 1229.1Z"/>
<path class="o" d="M653.1 1217.4L623.2 1205.7L623.2 1214.9L585.3 1214.9L585.3 1219.9L623.2 1219.9L623.2 1229.1Z"/>
<path class="o" d="M477.9 1252.9L507.2 1241.2L507.2 1250.4L544.6 1250.4L544.6 1255.4L507.2 1255.4L507.2 1264.6Z"/>
<path class="o" d="M653.1 1252.9L623.2 1241.2L623.2 1250.4L585.3 1250.4L585.3 1255.4L623.2 1255.4L623.2 1264.6Z"/>
</g>
<g id="27_spiral">
<path class="k" d="M396.1 1439.5C398.9 1436.2 406.1 1425.8 413.4 1420.1C420.7 1414.4 429 1409.3 440.1 1405.1C451.2 1400.9 465.1 1397.5 480.1 1395.1C495.1 1392.7 513.5 1391.3 530.2 1390.8C546.8 1390.2 563.5 1390.5 580.2 1391.8C596.9 1393 615.2 1395.1 630.3 1398.4C645.3 1401.8 659.4 1405.9 670.3 1411.8C681.1 1417.6 689.5 1425.4 695.3 1433.5C701.1 1441.5 704.2 1451.3 705.3 1460.2C706.4 1469 704.8 1478.5 702 1486.8C699.2 1495.2 695 1503 688.6 1510.2C682.2 1517.4 673.3 1524.4 663.6 1530.2C653.9 1536 642.5 1541.2 630.3 1545.2C618 1549.2 604.1 1552.6 590.2 1554.2C576.3 1555.9 560.7 1555.8 546.8 1555.2C532.9 1554.7 518.5 1553.1 506.8 1550.9C495.1 1548.7 484.6 1545.6 476.8 1541.9C469 1538.2 463.7 1533.3 460.1 1528.5C456.5 1523.8 454.8 1518.8 455.1 1513.5C455.4 1508.2 457.6 1502.1 461.8 1496.8C465.9 1491.6 472.1 1486.3 480.1 1481.8C488.2 1477.4 499 1473.1 510.2 1470.2C521.3 1467.2 534.6 1465.3 546.8 1464.2C559.1 1463 571.9 1462.8 583.5 1463.5C595.2 1464.2 606.3 1465.7 616.9 1468.5C627.5 1471.3 638 1474.9 646.9 1480.2C655.8 1485.4 664.2 1492.4 670.3 1500.2C676.4 1508 680.6 1518 683.6 1526.9C686.7 1535.8 688.6 1544.7 688.6 1553.6C688.6 1562.5 686.7 1571.9 683.6 1580.3C680.6 1588.6 676.4 1595.3 670.3 1603.6C664.2 1611.9 654.7 1623.4 646.9 1630C639.1 1636.7 632.5 1639.8 623.6 1643.4C614.7 1647 604.1 1650.2 593.6 1651.7C583 1653.3 570.8 1653.3 560.2 1652.7C549.6 1652.2 538.2 1650.5 530.2 1648.4C522.1 1646.3 516.3 1643.4 511.8 1640C507.4 1636.7 504.6 1632.5 503.5 1628.4C502.4 1624.2 502.9 1619.1 505.1 1615C507.4 1610.9 511 1607.5 516.8 1603.6C522.7 1599.8 531.3 1595 540.2 1591.9C549.1 1588.9 559.6 1586.2 570.2 1585.3C580.8 1584.3 593.6 1584.6 603.6 1586.3C613.6 1587.9 622.5 1591.3 630.3 1595.3C638 1599.3 645 1603.9 650.3 1610.3C655.5 1616.6 659.7 1625.6 661.9 1633.4C664.2 1641.1 664.7 1649.5 663.6 1656.7C662.5 1663.9 659.2 1670.9 655.3 1676.7C651.4 1682.6 646.7 1687.3 640.3 1691.7C633.9 1696.2 624.7 1700.5 616.9 1703.4C609.1 1706.4 599.9 1708.2 593.6 1709.4C587.2 1710.6 581 1710.5 578.5 1710.8" style="stroke:#35b4c2;stroke-width:6.3;stroke-opacity:0.92;stroke-linecap:butt"/>
<path class="k" d="M461.8 1383.4C467.6 1381.8 484.3 1376.1 496.8 1373.4C509.3 1370.7 523.5 1368.4 536.8 1367.4C550.2 1366.4 564.1 1366.6 576.9 1367.4C589.7 1368.2 605.2 1371 613.6 1372.4C621.9 1373.9 624.7 1375.5 626.9 1376.1" style="stroke:#e9573f;stroke-width:7.2;stroke-linecap:butt"/>
<path class="k" d="M640.9 1380.8L623.6 1368.1L620.2 1384.1Z" style="fill:#e9573f;stroke:none"/>
<path class="k" d="M691 1473.5C689.2 1476.8 685.4 1486.8 680.3 1493.5C675.2 1500.2 668.6 1507.7 660.3 1513.5C651.9 1519.4 640.8 1524.8 630.3 1528.5C619.7 1532.3 608 1534.5 596.9 1536.2C585.8 1537.9 572.7 1538 563.5 1538.5C554.4 1539 545.5 1539.1 541.8 1539.2" style="stroke:#e9573f;stroke-width:7.2;stroke-linecap:butt"/>
<path class="k" d="M524.5 1539.5L544.2 1530.9L544.2 1547.6Z" style="fill:#e9573f;stroke:none"/>
</g>
<g id="28_dots">
<circle cx="377.4" cy="1286" r="8.3" fill="#0b96a5"/>
<circle cx="421.7" cy="1286" r="8.3" fill="#0b96a5"/>
<circle cx="389.4" cy="1301" r="2.3" fill="#0b96a5"/>
<circle cx="434.1" cy="1301" r="2.3" fill="#0b96a5"/>
<circle cx="480.1" cy="1305" r="8.3" fill="#0b96a5"/>
<circle cx="570.2" cy="1311.7" r="6.7" fill="#0b96a5"/>
<circle cx="673" cy="1305" r="8.3" fill="#0b96a5"/>
<circle cx="377.4" cy="1321.7" r="8.3" fill="#0b96a5"/>
<circle cx="421.7" cy="1321.7" r="8.3" fill="#0b96a5"/>
<circle cx="460.1" cy="1324.4" r="8.3" fill="#0b96a5"/>
<circle cx="564.5" cy="1333.4" r="3" fill="#0b96a5"/>
<circle cx="591.9" cy="1333.4" r="3" fill="#0b96a5"/>
<circle cx="460.8" cy="1362.7" r="3.3" fill="#0b96a5"/>
<circle cx="417.4" cy="1374.1" r="8.7" fill="#0b96a5"/>
<circle cx="502.8" cy="1374.4" r="2.3" fill="#0b96a5"/>
<circle cx="644.3" cy="1385.8" r="6.7" fill="#0b96a5"/>
<circle cx="434.1" cy="1393.4" r="2.3" fill="#0b96a5"/>
<circle cx="656.9" cy="1396.4" r="3" fill="#0b96a5"/>
<circle cx="601.2" cy="1396.4" r="8.3" fill="#0b96a5"/>
<circle cx="460.1" cy="1416.8" r="8.3" fill="#0b96a5"/>
<circle cx="571.9" cy="1425.8" r="6.7" fill="#0b96a5"/>
<circle cx="634.3" cy="1429.1" r="8.3" fill="#0b96a5"/>
<circle cx="404.7" cy="1450.8" r="8.7" fill="#0b96a5"/>
<circle cx="370.4" cy="1468.5" r="8.3" fill="#0b96a5"/>
<circle cx="444.8" cy="1475.2" r="8.3" fill="#0b96a5"/>
<circle cx="580.2" cy="1461.2" r="2.3" fill="#0b96a5"/>
<circle cx="552.9" cy="1475.5" r="8.3" fill="#0b96a5"/>
<circle cx="622.6" cy="1476.2" r="6.7" fill="#0b96a5"/>
<circle cx="382.4" cy="1482.8" r="2.3" fill="#0b96a5"/>
<circle cx="594.2" cy="1495.5" r="3.3" fill="#0b96a5"/>
<circle cx="370.4" cy="1503.5" r="8.3" fill="#0b96a5"/>
<circle cx="409.1" cy="1506.9" r="8.3" fill="#0b96a5"/>
<circle cx="622.6" cy="1531.2" r="8" fill="#0b96a5"/>
<circle cx="560.9" cy="1537.9" r="6.7" fill="#0b96a5"/>
<circle cx="409.7" cy="1545.2" r="3" fill="#0b96a5"/>
<circle cx="366.4" cy="1556.2" r="8.7" fill="#0b96a5"/>
<circle cx="622.6" cy="1560.2" r="6.7" fill="#0b96a5"/>
<circle cx="421.7" cy="1566.9" r="8.3" fill="#0b96a5"/>
<circle cx="524.2" cy="1568.9" r="6.7" fill="#0b96a5"/>
<circle cx="382.4" cy="1575.2" r="2.3" fill="#0b96a5"/>
<circle cx="488.1" cy="1577.9" r="2.7" fill="#0b96a5"/>
<circle cx="434.1" cy="1582.3" r="2.3" fill="#0b96a5"/>
<circle cx="571.9" cy="1589.6" r="6.7" fill="#0b96a5"/>
<circle cx="624.2" cy="1590.9" r="6.7" fill="#0b96a5"/>
<circle cx="421.7" cy="1602.6" r="8.3" fill="#0b96a5"/>
<circle cx="460.1" cy="1605.9" r="8.3" fill="#0b96a5"/>
<circle cx="536.8" cy="1605.9" r="6.7" fill="#0b96a5"/>
<circle cx="506.8" cy="1616.9" r="6.7" fill="#0b96a5"/>
<circle cx="675.3" cy="1616.3" r="6.7" fill="#0b96a5"/>
<circle cx="646.9" cy="1618.6" r="6.7" fill="#0b96a5"/>
<circle cx="364" cy="1326.7" r="6.7" fill="#0b96a5" fill-opacity="0.38"/>
<circle cx="408.7" cy="1326.7" r="6.7" fill="#0b96a5" fill-opacity="0.38"/>
<circle cx="488.1" cy="1326.7" r="6.7" fill="#0b96a5" fill-opacity="0.38"/>
<circle cx="537.5" cy="1332.7" r="4" fill="#0b96a5" fill-opacity="0.38"/>
<circle cx="626.9" cy="1316.7" r="7.7" fill="#0b96a5" fill-opacity="0.38"/>
<circle cx="626.9" cy="1346.1" r="7.7" fill="#0b96a5" fill-opacity="0.38"/>
<circle cx="676.3" cy="1340.1" r="7.7" fill="#0b96a5" fill-opacity="0.38"/>
<circle cx="430.8" cy="1350.7" r="4.3" fill="#0b96a5" fill-opacity="0.38"/>
<circle cx="558.2" cy="1378.1" r="3.7" fill="#0b96a5" fill-opacity="0.38"/>
<circle cx="681.3" cy="1400.1" r="7.7" fill="#0b96a5" fill-opacity="0.38"/>
<circle cx="430.8" cy="1417.4" r="6.7" fill="#0b96a5" fill-opacity="0.38"/>
<circle cx="534.2" cy="1423.5" r="5.3" fill="#0b96a5" fill-opacity="0.38"/>
<circle cx="505.5" cy="1444.5" r="8.3" fill="#0b96a5" fill-opacity="0.38"/>
<circle cx="430.8" cy="1442.8" r="4.3" fill="#0b96a5" fill-opacity="0.38"/>
<circle cx="357.4" cy="1508.9" r="6.7" fill="#0b96a5" fill-opacity="0.38"/>
<circle cx="379.4" cy="1532.5" r="4.3" fill="#0b96a5" fill-opacity="0.38"/>
<circle cx="509.1" cy="1530.9" r="6" fill="#0b96a5" fill-opacity="0.38"/>
<circle cx="464.4" cy="1550.9" r="6" fill="#0b96a5" fill-opacity="0.38"/>
<circle cx="676" cy="1533.5" r="7.3" fill="#0b96a5" fill-opacity="0.38"/>
<circle cx="676" cy="1575.2" r="7.3" fill="#0b96a5" fill-opacity="0.38"/>
<circle cx="379.4" cy="1600.3" r="7.3" fill="#0b96a5" fill-opacity="0.38"/>
<circle cx="408.7" cy="1607.9" r="6.7" fill="#0b96a5" fill-opacity="0.38"/>
<circle cx="593.6" cy="1614.6" r="7.7" fill="#0b96a5" fill-opacity="0.38"/>
<circle cx="379.4" cy="1624.6" r="4.3" fill="#0b96a5" fill-opacity="0.38"/>
<circle cx="621.9" cy="1628.6" r="7.3" fill="#0b96a5" fill-opacity="0.38"/>
<circle cx="430.1" cy="1632" r="4" fill="#0b96a5" fill-opacity="0.38"/>
<circle cx="460.8" cy="1644.4" r="3" fill="#0b96a5"/>
<circle cx="506.8" cy="1644.4" r="6.7" fill="#0b96a5"/>
<circle cx="557.9" cy="1644.4" r="7.3" fill="#0b96a5"/>
<circle cx="417.4" cy="1655" r="8.7" fill="#0b96a5"/>
<circle cx="663.6" cy="1651.7" r="6.7" fill="#0b96a5"/>
<circle cx="688.6" cy="1651.7" r="6" fill="#0b96a5"/>
<circle cx="488.1" cy="1670.4" r="2.7" fill="#0b96a5"/>
<circle cx="434.1" cy="1674.7" r="2.3" fill="#0b96a5"/>
<circle cx="617.9" cy="1678.4" r="3.7" fill="#0b96a5"/>
<circle cx="660.9" cy="1679.1" r="6.3" fill="#0b96a5"/>
<circle cx="599.6" cy="1685.7" r="7" fill="#0b96a5"/>
<circle cx="384" cy="1692.7" r="8.7" fill="#0b96a5"/>
<circle cx="460.1" cy="1698.1" r="8.3" fill="#0b96a5"/>
<circle cx="506.8" cy="1701.8" r="7" fill="#0b96a5"/>
<circle cx="549.5" cy="1718.4" r="2.7" fill="#0b96a5"/>
<circle cx="609.6" cy="1718.4" r="2.7" fill="#0b96a5"/>
<circle cx="670.3" cy="1718.4" r="2.7" fill="#0b96a5"/>
<circle cx="481.8" cy="1720.1" r="8.3" fill="#0b96a5"/>
<circle cx="571.9" cy="1724.4" r="3.7" fill="#0b96a5"/>
<circle cx="644.3" cy="1730.1" r="3.3" fill="#0b96a5"/>
<circle cx="404.7" cy="1732.4" r="8.7" fill="#0b96a5"/>
<circle cx="461.1" cy="1736.8" r="3" fill="#0b96a5"/>
<circle cx="506.8" cy="1736.8" r="7.3" fill="#0b96a5"/>
<circle cx="602.9" cy="1741.1" r="3.7" fill="#0b96a5"/>
<circle cx="545.2" cy="1750.8" r="3.7" fill="#0b96a5"/>
<circle cx="640.9" cy="1750.1" r="2.7" fill="#0b96a5"/>
<circle cx="424.7" cy="1751.1" r="2.3" fill="#0b96a5"/>
<circle cx="488.1" cy="1755.8" r="2.7" fill="#0b96a5"/>
<circle cx="512.5" cy="1755.8" r="2.7" fill="#0b96a5"/>
<circle cx="617.9" cy="1755.8" r="3.7" fill="#0b96a5"/>
<circle cx="655.9" cy="1754.1" r="5.3" fill="#0b96a5"/>
<circle cx="539.5" cy="1767.8" r="3" fill="#0b96a5"/>
<circle cx="599.6" cy="1767.8" r="7" fill="#0b96a5"/>
<circle cx="450.8" cy="1774.5" r="8.3" fill="#0b96a5"/>
<circle cx="497.8" cy="1778.5" r="7" fill="#0b96a5"/>
<circle cx="508.5" cy="1787.5" r="3.7" fill="#0b96a5"/>
<circle cx="566.2" cy="1796.2" r="4" fill="#0b96a5"/>
<circle cx="632.9" cy="1796.2" r="6" fill="#0b96a5"/>
<circle cx="451.8" cy="1812.8" r="3" fill="#0b96a5"/>
<circle cx="497.8" cy="1812.8" r="7.3" fill="#0b96a5"/>
<circle cx="479.1" cy="1832.2" r="2.7" fill="#0b96a5"/>
<circle cx="502.8" cy="1832.2" r="2.7" fill="#0b96a5"/>
<circle cx="632.9" cy="1832.2" r="6" fill="#0b96a5"/>
<circle cx="379.4" cy="1624.4" r="4.3" fill="#0b96a5" fill-opacity="0.38"/>
<circle cx="430.1" cy="1632.4" r="4.3" fill="#0b96a5" fill-opacity="0.38"/>
<circle cx="593.6" cy="1658.4" r="7.3" fill="#0b96a5" fill-opacity="0.38"/>
<circle cx="525.2" cy="1676.7" r="7.3" fill="#0b96a5" fill-opacity="0.38"/>
<circle cx="575.2" cy="1699.4" r="6.7" fill="#0b96a5" fill-opacity="0.38"/>
<circle cx="646.9" cy="1699.4" r="3.7" fill="#0b96a5" fill-opacity="0.38"/>
<circle cx="693" cy="1699.4" r="7.3" fill="#0b96a5" fill-opacity="0.38"/>
<circle cx="430.1" cy="1699.4" r="6.7" fill="#0b96a5" fill-opacity="0.38"/>
<circle cx="536.2" cy="1715.1" r="2.7" fill="#0b96a5" fill-opacity="0.38"/>
<circle cx="430.1" cy="1724.1" r="4.3" fill="#0b96a5" fill-opacity="0.38"/>
<circle cx="684.3" cy="1736.8" r="4" fill="#0b96a5" fill-opacity="0.38"/>
<circle cx="421.1" cy="1775.8" r="6.7" fill="#0b96a5" fill-opacity="0.38"/>
<circle cx="472.5" cy="1796.2" r="8" fill="#0b96a5" fill-opacity="0.38"/>
<circle cx="421.1" cy="1800.5" r="4.3" fill="#0b96a5" fill-opacity="0.38"/>
<circle cx="684.3" cy="1796.2" r="8" fill="#0b96a5" fill-opacity="0.38"/>
<circle cx="536.8" cy="1812.8" r="7" fill="#0b96a5" fill-opacity="0.38"/>
<circle cx="597.6" cy="1809.5" r="8" fill="#0b96a5" fill-opacity="0.38"/>
<circle cx="660.3" cy="1816.8" r="8" fill="#0b96a5" fill-opacity="0.38"/>
<circle cx="693" cy="1825.2" r="7.3" fill="#0b96a5" fill-opacity="0.38"/>
<circle cx="571.9" cy="1754.1" r="5.3" fill="#0b96a5" fill-opacity="0.65"/>
<circle cx="586.5" cy="1842.2" r="5.7" fill="#0b96a5" fill-opacity="0.65"/>
<circle cx="469.2" cy="773.6" r="6.2" fill="#0b96a5"/>
<circle cx="488.7" cy="793.1" r="6.2" fill="#0b96a5"/>
<circle cx="639.3" cy="774.4" r="6.2" fill="#0b96a5"/>
<circle cx="662.8" cy="750.6" r="6.2" fill="#0b96a5"/>
<circle cx="613.6" cy="798.1" r="4.5" fill="#0b96a5"/>
<circle cx="676.1" cy="798.1" r="4.2" fill="#0b96a5"/>
<circle cx="431.7" cy="811.1" r="6.2" fill="#0b96a5"/>
<circle cx="502.4" cy="764.9" r="5.5" fill="#0b96a5" fill-opacity="0.45"/>
<circle cx="517.5" cy="803.3" r="6.2" fill="#0b96a5"/>
<circle cx="469.1" cy="820.9" r="2.2" fill="#0b96a5"/>
<circle cx="593.5" cy="826.4" r="5.9" fill="#0b96a5"/>
<circle cx="625.6" cy="828" r="1.5" fill="#0b96a5"/>
<circle cx="639.3" cy="856.8" r="2.4" fill="#0b96a5"/>
<circle cx="594.1" cy="859.4" r="1.5" fill="#0b96a5"/>
<circle cx="535.3" cy="871.6" r="2.2" fill="#0b96a5"/>
<circle cx="537.3" cy="902.4" r="2.4" fill="#0b96a5"/>
<circle cx="453.2" cy="907.9" r="4" fill="#0b96a5"/>
<circle cx="507.2" cy="922.2" r="5.3" fill="#0b96a5"/>
<circle cx="537.3" cy="927.3" r="4.4" fill="#0b96a5"/>
<circle cx="619.9" cy="919.3" r="4.2" fill="#0b96a5"/>
<circle cx="470.8" cy="959" r="5.3" fill="#0b96a5"/>
<circle cx="453.2" cy="1004.1" r="4" fill="#0b96a5"/>
<circle cx="479" cy="1014.7" r="6.6" fill="#0b96a5"/>
<circle cx="445.5" cy="1029.6" r="4" fill="#0b96a5"/>
<circle cx="601.8" cy="1033.8" r="6.6" fill="#0b96a5"/>
<circle cx="521.9" cy="1048.8" r="6.6" fill="#0b96a5"/>
<circle cx="453.2" cy="1059.1" r="4" fill="#0b96a5"/>
<circle cx="497.2" cy="1061.3" r="3.7" fill="#0b96a5"/>
<circle cx="618.8" cy="1061.6" r="2.2" fill="#0b96a5"/>
<circle cx="652" cy="1036" r="2" fill="#0b96a5"/>
<circle cx="539.5" cy="810.3" r="4.4" fill="#0b96a5" fill-opacity="0.5"/>
<circle cx="639.3" cy="803.3" r="4.4" fill="#0b96a5" fill-opacity="0.5"/>
<circle cx="539.5" cy="835.2" r="4.4" fill="#0b96a5" fill-opacity="0.5"/>
<circle cx="670.1" cy="834.8" r="4.4" fill="#0b96a5" fill-opacity="0.5"/>
<circle cx="501.6" cy="848.4" r="4.4" fill="#0b96a5" fill-opacity="0.5"/>
<circle cx="473" cy="881.5" r="6.2" fill="#0b96a5" fill-opacity="0.5"/>
<circle cx="684.8" cy="881.5" r="6.2" fill="#0b96a5" fill-opacity="0.5"/>
<circle cx="479.2" cy="907.9" r="6.2" fill="#0b96a5" fill-opacity="0.5"/>
<circle cx="654" cy="911.8" r="6.2" fill="#0b96a5" fill-opacity="0.5"/>
<circle cx="537.3" cy="1014" r="2.2" fill="#0b96a5" fill-opacity="0.5"/>
<circle cx="543.5" cy="1022.4" r="6.2" fill="#0b96a5" fill-opacity="0.5"/>
<circle cx="543.5" cy="1085.1" r="6.2" fill="#0b96a5" fill-opacity="0.5"/>
<circle cx="588.2" cy="906.8" r="4" fill="#0b96a5" fill-opacity="0.7"/>
<circle cx="594.8" cy="934.3" r="4" fill="#0b96a5" fill-opacity="0.7"/>
<circle cx="588.2" cy="961.4" r="4" fill="#0b96a5" fill-opacity="0.7"/>
<circle cx="434.5" cy="984.9" r="2.5" fill="#0b96a5"/>
<circle cx="406.5" cy="1013.9" r="6.1" fill="#0b96a5"/>
<circle cx="391.3" cy="949.4" r="6.1" fill="#0b96a5" fill-opacity="0.45"/>
<circle cx="438" cy="949.4" r="6.1" fill="#0b96a5" fill-opacity="0.45"/>
<circle cx="401.4" cy="984.9" r="6.6" fill="#0b96a5" fill-opacity="0.45"/>
<circle cx="404" cy="1058.6" r="5.1" fill="#0b96a5" fill-opacity="0.45"/>
<circle cx="428.4" cy="1057.8" r="6.6" fill="#0b96a5"/>
<circle cx="406.5" cy="1079.6" r="3.6" fill="#0b96a5"/>
<circle cx="431.9" cy="1079.6" r="3.6" fill="#0b96a5"/>
<circle cx="471.1" cy="1102.7" r="6.1" fill="#0b96a5"/>
<circle cx="521.9" cy="1102.7" r="6.1" fill="#0b96a5"/>
<circle cx="428.7" cy="1180.3" r="6.8" fill="#0b96a5"/>
<circle cx="453.5" cy="1177.2" r="3.7" fill="#0b96a5"/>
<circle cx="417.2" cy="1208.4" r="6.8" fill="#0b96a5"/>
<circle cx="471.1" cy="1201.6" r="6.8" fill="#0b96a5"/>
<circle cx="456.9" cy="1216.2" r="2.7" fill="#0b96a5"/>
<circle cx="433.1" cy="1232.1" r="3.7" fill="#0b96a5"/>
<circle cx="471.1" cy="1239.9" r="6.8" fill="#0b96a5"/>
<circle cx="601.8" cy="1210.8" r="6.8" fill="#0b96a5"/>
<circle cx="601.8" cy="1239.9" r="6.8" fill="#0b96a5"/>
<circle cx="663.5" cy="1141.3" r="2.4" fill="#0b96a5"/>
<circle cx="651.6" cy="1158.6" r="2.4" fill="#0b96a5"/>
<circle cx="684.8" cy="1135.6" r="6.1" fill="#0b96a5" fill-opacity="0.45"/>
<circle cx="619.4" cy="1159.3" r="3.7" fill="#0b96a5" fill-opacity="0.45"/>
<circle cx="684.8" cy="1162" r="6.1" fill="#0b96a5" fill-opacity="0.45"/>
<circle cx="676.3" cy="1176.2" r="2.7" fill="#0b96a5" fill-opacity="0.45"/>
<circle cx="657.7" cy="1194.8" r="2.7" fill="#0b96a5" fill-opacity="0.45"/>
<circle cx="673.6" cy="1210.8" r="6.1" fill="#0b96a5" fill-opacity="0.45"/>
<circle cx="673.6" cy="1243.9" r="5.4" fill="#0b96a5" fill-opacity="0.45"/>
<circle cx="401" cy="1187" r="6.1" fill="#0b96a5" fill-opacity="0.45"/>
</g>
<g id="30_column">
<path class="k" d="M423.2 443.1C428.1 444.6 441.1 449.5 452.5 452.1C463.9 454.7 478.6 457 491.6 458.8C504.6 460.6 517.6 461.8 530.6 462.8C543.6 463.8 558.1 464.3 569.6 464.8C581.2 465.2 589.4 465.7 600 465.4C610.6 465.2 622.2 464.5 633.4 463.1C644.5 461.7 655.6 459.7 666.7 457.1C677.8 454.5 689 451.1 700.1 447.4C711.2 443.8 722.3 439.5 733.4 435.1C744.6 430.6 755.7 425.9 766.8 420.7C777.9 415.6 789.6 409.7 800.2 404.1C810.7 398.4 825.2 389.6 830.2 386.7"/>
<path class="t" d="M423.2 446.1C428.1 447.6 441.1 452.5 452.5 455.1C463.9 457.7 478.6 460 491.6 461.8C504.6 463.6 517.6 464.8 530.6 465.8C543.6 466.8 558.1 467.3 569.6 467.8C581.2 468.2 589.4 468.7 600 468.4C610.6 468.2 622.2 467.5 633.4 466.1C644.5 464.7 655.6 462.7 666.7 460.1C677.8 457.5 689 454.1 700.1 450.4C711.2 446.8 722.3 442.5 733.4 438.1C744.6 433.6 755.7 428.9 766.8 423.7C777.9 418.6 789.6 412.7 800.2 407.1C810.7 401.4 825.2 392.6 830.2 389.7"/>
<path class="k" d="M423.2 448.8C428.1 450.3 441.1 455.2 452.5 457.8C463.9 460.4 478.6 462.7 491.6 464.4C504.6 466.2 517.6 467.4 530.6 468.4C543.6 469.4 558.1 470 569.6 470.5C581.2 470.9 589.4 471.4 600 471.1C610.6 470.8 622.2 470.2 633.4 468.8C644.5 467.4 655.6 465.4 666.7 462.8C677.8 460.2 689 456.8 700.1 453.1C711.2 449.4 722.3 445.2 733.4 440.8C744.6 436.3 755.7 431.6 766.8 426.4C777.9 421.2 789.6 415.4 800.2 409.7C810.7 404.1 825.2 395.3 830.2 392.4"/>
<path class="w" d="M899.2 346.9C897.9 349.9 894.9 364.9 893.4 371.1C891.9 377.3 887.6 391.6 886.2 400C884.8 408.4 881.5 433.9 881 443.3C880.5 452.7 881.1 474.4 881.9 480.8C882.6 487.2 886.3 495.7 887.6 498.2C889 500.6 892.1 501.6 893.4 501.6C894.8 501.6 898.2 499.9 899.2 498.2C900.2 496.4 901.8 492 902.1 486.6C902.3 481.2 901.2 462.1 901.2 452C901.2 441.9 901.9 409.4 902.1 400C902.3 390.6 902.7 377.5 902.9 371.1C903.2 364.7 904.5 348 904.1 345.1C903.7 342.3 900.4 343.8 899.2 346.9Z"/>
<path class="t" d="M901.8 348C900.8 352.1 898.2 363.4 896 372.3C893.9 381.1 890.9 389.1 888.8 401.2C886.7 413.2 884.3 431 883.6 444.5C882.9 457.9 883.4 472.9 884.5 482C885.6 491.1 889.3 496.4 890.2 499.3"/>
<ellipse class="k" cx="898.6" cy="365.4" rx="1.5" ry="3.2"/>
<ellipse class="k" cx="898.6" cy="483.7" rx="1.5" ry="3.2"/>
<path class="w" d="M896.3 555.9C895.7 558.4 894.3 573 893.4 579C892.5 585.1 889.6 598.5 888.5 607.9C887.4 617.3 884.6 647.1 883.9 659.9C883.1 672.7 882.1 706.5 882.2 717.6C882.3 728.7 883.4 748.9 884.8 755.2C886.1 761.5 892 769.8 893.4 771.6C894.8 773.5 895.9 772.6 896.9 771C897.9 769.5 901.6 764.3 902.1 758C902.6 751.8 901.4 727.4 901.2 717.6C901 707.8 899.7 685.1 900.1 674.3C900.4 663.5 904 635.7 904.1 625.2C904.2 614.8 901.9 592.7 901.2 584.8C900.6 576.9 899.2 560.7 898.6 557.4C898 554 896.9 553.4 896.3 555.9Z"/>
<path class="t" d="M898.9 557.1C898.4 560.9 897.3 571.5 896 580.2C894.7 588.8 892.7 595.6 891.1 609C889.5 622.5 887.5 642.7 886.5 661C885.4 679.3 884.6 702.9 884.8 718.8C884.9 734.7 885.5 747.3 887.4 756.3C889.2 765.3 894.6 770 896 772.8"/>
<ellipse class="k" cx="897.7" cy="639.7" rx="1.5" ry="3.2"/>
<ellipse class="k" cx="898.6" cy="753.7" rx="1.5" ry="3.2"/>
<path class="k" d="M894.9 501.6L894.9 555.9"/>
<path class="k" d="M865.4 579L874.6 581.9L890.5 599.2L889.1 619.4L874.6 631L868.9 622.3"/>
<ellipse class="k" cx="876.1" cy="623.8" rx="3.2" ry="3.2"/>
<ellipse class="k" cx="886.2" cy="622.3" rx="2.6" ry="2.6"/>
<path class="k" d="M868.9 628.1C869.8 630 872.2 638.2 874.6 639.7C877.1 641.1 881.9 637.2 883.3 636.8"/>
<path class="k" d="M865.4 677.2L874.6 674.3L876.1 697.4L868.9 706.1L865.4 703.2"/>
<path class="t" d="M868.9 677.2L870 703.2"/>
<path class="t" d="M872.3 675.7L873.2 700.3"/>
<path class="t" d="M883.3 639.7C882.3 643 879.7 654.1 877.5 659.9C875.4 665.6 871.5 671.9 870.3 674.3"/>
<path class="k" d="M749.9 447L749.9 492"/>
<path class="k" d="M756.2 444.5L756.2 493"/>
<path class="t" d="M765.1 441.9L765.1 492"/>
<path class="k" d="M721.9 458.9L748.6 469.1"/>
<path class="t" d="M724.5 456.4L749.9 466.6"/>
<path class="k" d="M766.4 454.6L800.7 473.7"/>
<path class="t" d="M767.7 459.7L794.3 474.2"/>
<path class="t" d="M765.1 476.2L777.8 485.1"/>
<path class="k" d="M667.3 471.1L700.3 495.3"/>
<path class="t" d="M678.7 468.1L701.6 485.1"/>
<path class="k" d="M800.7 425.4L800.7 473.7"/>
<path class="t" d="M803.2 425.4L806.3 430L808.3 425.4"/>
<path class="wn" d="M700.8 470.1L716.8 466.8L722.8 468.4L722.8 476.8L728.4 484.1L738.4 490.1L753.5 492.5L768.5 491.8L778.5 487.5L846.9 452.8L866.9 434.1L866.9 963.9L700.8 963.9Z"/>
<path class="t" d="M703.4 472.8L718.4 469.4L720.1 476.8"/>
<path class="k" d="M700.8 936.9L700.8 470.1L716.8 466.8L722.8 468.4L722.8 476.8"/>
<path class="k" d="M722.8 476.8C723.7 478 725.8 481.9 728.4 484.1C731.1 486.4 734.3 488.7 738.4 490.1C742.6 491.5 748.5 492.2 753.5 492.5C758.5 492.7 764.3 492.6 768.5 491.8C772.6 491 776.8 488.2 778.5 487.5"/>
<path class="k" d="M778.5 487.5L846.9 452.8"/>
<path class="t" d="M703.8 473.5L703.8 938.5"/>
<path class="k" d="M740.1 491.1L740.1 961.9"/>
<path class="k" d="M776.8 488.5L776.8 953.6"/>
<path class="t" d="M817.5 468.4L817.5 913.5"/>
<path class="k" d="M856.9 441.8L855.4 1358.7L920.2 1798"/>
<path class="k" d="M865.2 436.1L862.6 1353.7L926.4 1777"/>
<path class="k" d="M700.8 936.9C702.3 938.5 704.6 943 710.1 946.9C715.5 950.8 726.8 957.2 733.4 960.2C740.1 963.3 745.1 964.7 750.1 965.2C755.1 965.8 759 965.5 763.5 963.6C767.9 961.6 773.8 956.3 776.8 953.6C779.9 950.8 781 948 781.8 946.9"/>
<path class="k" d="M800.2 471.8L800.2 426.7L808.5 430.1L833.5 415.1"/>
<path class="t" d="M818.5 463.4L818.5 425.1"/>
<path class="k" d="M830.2 458.4L830.2 417.4"/>
<path class="t" d="M821.9 461.8L821.9 426.7"/>
<ellipse class="k" cx="826.2" cy="446.1" rx="2" ry="3.4"/>
<path class="w" d="M777.8 756.4L782 751L854 709.3L859.9 708.7L864.1 713.2L864.1 864.8L860.2 871.2L860.2 871.2C856.2 873.9 844.4 882.4 836.2 887.6C828 892.9 818.8 898.6 810.8 902.9C802.8 907.2 791.7 911.8 787.9 913.5L780.3 914.2L777.3 909.6Z"/>
<path class="t" d="M785.4 755.1L856.9 713.4"/>
<path class="t" d="M789.1 757.8L858.2 717.8"/>
<path class="t" d="M781.7 759.8L781.7 910.5"/>
<ellipse class="k" cx="786.8" cy="757.8" rx="4.6" ry="4.6"/>
<ellipse class="t" cx="786.8" cy="757.8" rx="2.8" ry="2.8"/>
<ellipse class="k" cx="859.6" cy="715.4" rx="4.6" ry="4.6"/>
<ellipse class="t" cx="859.6" cy="715.4" rx="2.8" ry="2.8"/>
<ellipse class="k" cx="859.9" cy="865.6" rx="4.6" ry="4.6"/>
<ellipse class="t" cx="859.9" cy="865.6" rx="2.8" ry="2.8"/>
<ellipse class="k" cx="787.1" cy="909.1" rx="4.6" ry="4.6"/>
<ellipse class="t" cx="787.1" cy="909.1" rx="2.8" ry="2.8"/>
<path class="k" d="M791.3 821.6L791.3 758.4L795.6 754.7L851.4 722.9L854.8 723.4L857.9 729.3L859.1 780.1"/>
<path class="t" d="M795.6 754.7L796.4 817.4L791.3 821.6"/>
<path class="k" d="M791.3 821.6L804.4 844.8L810.1 900.7L815 841.4L804.9 830.9L793.9 824.5L791.3 821.6"/>
<path class="t" d="M804.9 830.9L804.4 844.8"/>
<path class="t" d="M796.4 817.4L804.9 830.9"/>
<path class="k" d="M815 841.4L815.9 824.1L844.7 810.6L837 885.9"/>
<path class="k" d="M804.4 761.8L849.7 743.7L852.8 795.4L844.7 810.6L815.9 824.1L805.4 819.1Z"/>
<path class="t" d="M810.5 766.2C813.9 764.3 824.8 758 831.1 754.7C837.4 751.4 845.5 747.9 848.4 746.6"/>
<path class="t" d="M848.4 746.6C848.9 750.5 851.2 762.3 851.4 770C851.7 777.6 850.3 788.6 850.1 792.3"/>
<path class="t" d="M850.1 792.3C846.9 794.2 837.3 800.5 831.1 803.8C824.9 807.1 815.9 810.9 812.8 812.3"/>
<path class="t" d="M812.8 812.3C813 808.3 814.2 796.3 813.8 788.6C813.4 780.9 811 770 810.5 766.2"/>
<path class="k" d="M812.5 756.4L829.4 747.9"/>
<ellipse class="w" cx="837" cy="790.3" rx="21" ry="24" transform="rotate(-15 837 790.3)"/>
<path class="w" d="M832.8 772.5C834.1 769.6 836.8 768.6 839.6 769.6C842.4 770.6 846.8 774.4 849.7 778.4C852.7 782.4 855.8 789.1 857.4 793.7C858.9 798.2 859.9 802.4 859.1 805.5C858.2 808.7 854.7 812.3 852.3 812.6C849.9 812.9 847.3 809.2 844.7 807.2C842 805.2 838.3 803.8 836.2 800.4C834.1 797 832.5 791.5 832 786.9C831.4 782.2 831.5 775.4 832.8 772.5Z"/>
<path class="w" d="M835.3 785.2C836.8 782.7 839.2 781.2 841.3 781.8C843.4 782.4 846.4 785.5 848 788.6C849.7 791.7 851.2 796.8 851.4 800.4C851.7 804.1 850.9 808.5 849.7 810.6C848.6 812.7 846.9 813.4 844.7 813.1C842.4 812.9 838.2 811.6 836.2 808.9C834.2 806.2 832.9 801 832.8 797C832.7 793.1 833.9 787.7 835.3 785.2Z"/>
<path class="t" d="M839.6 770.8C841.6 772.9 848.6 778.8 851.4 783.5C854.3 788.2 855.7 796.2 856.5 798.7"/>
<path class="w" d="M865 739.5C866.1 739.1 869.5 736.5 871.8 736.9C874 737.4 876.8 739.6 878.5 742C880.2 744.4 881.6 747.5 881.9 751.3C882.2 755.1 881.3 761.5 880.2 764.9C879.1 768.3 877.7 770.1 875.1 771.6C872.6 773.2 866.7 773.8 865 774.2"/>
<path class="t" d="M868.4 744.6L876.8 763.2"/>
<path class="t" d="M865.8 759.8L878.5 754.7"/>
<path class="k" d="M865 792C865.8 791.3 868.4 788.3 870.1 787.7C871.8 787.2 874.9 787 875.1 788.6C875.4 790.1 873.4 794.5 871.8 797C870.1 799.6 866.1 802.7 865 803.8"/>
<path class="k" d="M865 829.2C865.7 828.9 868.1 826.7 869.2 827.5C870.3 828.4 871.6 831.8 871.8 834.3C871.9 836.8 871.2 840.8 870.1 842.8C868.9 844.7 865.8 845.6 865 846.1"/>
</g>
<g id="31_lowcol">
<path class="k" d="M895.3 940L895.3 1157"/>
<path class="k" d="M895.2 1156.8C897.2 1160.7 904.3 1170.7 906.9 1180.1C909.5 1189.6 910.9 1202.4 910.9 1213.5C910.9 1224.6 909.8 1235.7 906.9 1246.8C904 1258 899.1 1270.7 893.5 1280.2C888 1289.7 878.6 1298.3 873.5 1303.6C868.4 1308.8 864.6 1310.5 862.9 1311.9"/>
<path class="t" d="M895.2 1168.4C896.9 1172.1 903.1 1182.1 905.2 1190.1C907.3 1198.2 908.2 1207.1 907.9 1216.8C907.6 1226.5 906.5 1238.2 903.6 1248.5C900.6 1258.8 895.5 1269.9 890.2 1278.5C884.9 1287.2 876.4 1295.5 871.9 1300.2C867.3 1304.9 864.4 1305.8 862.9 1306.9"/>
<path class="k" d="M895.2 1186.8C895.8 1191.2 898.5 1204.6 898.5 1213.5C898.5 1222.4 897.4 1231.3 895.2 1240.2C893 1249.1 889.4 1258.8 885.2 1266.9C881 1274.9 873.9 1283.5 870.2 1288.5C866.5 1293.5 864.1 1295.5 862.9 1296.9"/>
<path class="t" d="M895.2 1181.8C896.1 1187.1 900.2 1203.5 900.6 1213.5C900.9 1223.5 899.5 1232.5 897.2 1241.8C894.9 1251.2 891.3 1261.2 886.9 1269.5C882.5 1277.9 874.9 1286.6 870.9 1291.9C866.9 1297.1 864.2 1299.4 862.9 1300.9"/>
<path class="k" d="M910.9 1220.2C910.9 1221.3 911.3 1216.8 910.9 1226.8C910.5 1236.8 910 1266.9 908.3 1280C906.6 1293.1 903.7 1298.2 900.7 1305.4C897.7 1312.6 894.3 1317.5 890.5 1323.2C886.7 1328.9 882.4 1334.6 877.8 1339.7C873.1 1344.8 865.1 1351.4 862.6 1353.7"/>
<path class="t" d="M890.5 1323.2C890.3 1332.9 890.5 1354.5 889.2 1381.6C887.9 1408.7 884 1468.4 882.9 1485.8"/>
<path class="t" d="M862.6 1353.7L856.9 1360.3"/>
<path class="k" d="M697.4 1111.7L697.4 1380.3L708.4 1383.6L708.4 1394"/>
<path class="t" d="M700 1113L700 1380"/>
<path class="k" d="M737.6 1150L738.3 1881.8"/>
<path class="k" d="M774.1 1133.4L773.7 1885"/>
<path class="k" d="M701.8 1866.1C701 1868.5 695.5 1883.8 695.1 1886.8C694.7 1889.8 694.8 1889.8 698.5 1891.8C702.2 1893.8 722 1901.8 726.8 1904.1C731.7 1906.5 735.5 1910.5 740.2 1911.8C744.8 1913.1 761.4 1915.7 766.9 1915.1C772.3 1914.5 784.5 1907.8 786.9 1906.8"/>
<path class="k" d="M786.9 1906.8L934 1825.1L941.1 1810.9"/>
<path class="k" d="M941.1 1810.9C941.7 1808.6 944.9 1801.5 944.5 1796.9C944.1 1792.4 941.7 1786.9 938.8 1783.6C935.9 1780.2 929.1 1778 927.1 1776.9"/>
<path class="t" d="M696.8 1888.4C700.5 1889.6 723 1896.5 728.5 1898.4C733.9 1900.4 738.8 1904 743.5 1905.1C748.2 1906.3 763.7 1908.8 768.5 1908.5C773.4 1908.1 783.3 1902.6 785.2 1901.8"/>
<path class="t" d="M785.2 1901.8L934 1818.4L934.5 1808.6"/>
<path class="t" d="M934.5 1808.6C935.2 1806.8 938.9 1801.2 938.8 1797.6C938.7 1794 935.8 1789.5 933.8 1786.9C931.7 1784.3 927.7 1782.7 926.4 1781.9"/>
<path class="k" d="M701.8 1867.4C705.3 1869.5 726.6 1882.4 731.8 1885.1C737.1 1887.8 742.4 1890 746.8 1890.8C751.3 1891.6 766.1 1892.3 770.2 1891.8C774.3 1891.2 780.5 1886.8 781.9 1886.1"/>
<path class="k" d="M781.9 1886.1L925.3 1800L925.4 1801.9"/>
<path class="t" d="M731.8 1885.1L726.8 1904.1"/>
<path class="t" d="M781.9 1886.1L786.9 1906.8"/>
<path class="t" d="M701.8 1866.1L701.8 1867.4"/>
</g>
<g id="32_tongue">
<path class="wn" d="M687.4 296.1C689.5 295.9 692.4 294.4 700.1 294.7C707.8 295.1 724 295.9 733.4 298.4C742.9 301 747.9 304.3 756.8 310.1C765.7 315.9 774 323.4 786.8 333.4C799.6 343.5 821.9 361.2 833.5 370.1C845.2 379 851.3 380.7 856.9 386.8C862.4 392.9 864.9 400.2 866.9 406.8C868.9 413.5 869.1 422.4 868.9 426.9C868.7 431.3 866.4 432.4 865.9 433.5L846.9 455.2L846.2 455.2C845.2 452.2 842.9 442.7 840.2 436.9C837.5 431 835.8 426.3 830.2 420.2C824.6 414.1 817.4 409.1 806.8 400.2C796.3 391.3 780.2 377.9 766.8 366.8C753.5 355.7 737.9 343.3 726.8 333.4C715.7 323.5 707.3 313.1 700.1 307.4C692.9 301.7 686.2 300.5 683.4 299.1Z"/>
<path class="k" d="M687.4 296.1C689.5 295.9 692.4 294.4 700.1 294.7C707.8 295.1 724 295.9 733.4 298.4C742.9 301 747.9 304.3 756.8 310.1C765.7 315.9 774 323.4 786.8 333.4C799.6 343.5 821.9 361.2 833.5 370.1C845.2 379 851.3 380.7 856.9 386.8C862.4 392.9 864.9 400.2 866.9 406.8C868.9 413.5 869.1 422.4 868.9 426.9C868.7 431.3 866.4 432.4 865.9 433.5"/>
<path class="k" d="M865.9 433.5L846.9 455.2"/>
<path class="k" d="M700.1 296.7C704.5 297.9 719 300.1 726.8 303.4C734.6 306.8 737.9 310.1 746.8 316.8C755.7 323.4 766.8 332.9 780.2 343.5C793.5 354 815.5 370.7 826.9 380.2C838.3 389.6 843.3 393.5 848.5 400.2C853.8 406.8 856.7 413.2 858.5 420.2C860.4 427.1 859.4 438.3 859.5 441.9"/>
<path class="k" d="M683.4 299.1C686.2 300.5 692.9 301.7 700.1 307.4C707.3 313.1 715.7 323.5 726.8 333.4C737.9 343.3 753.5 355.7 766.8 366.8C780.2 377.9 796.3 391.3 806.8 400.2C817.4 409.1 824.6 414.1 830.2 420.2C835.8 426.3 837.5 431 840.2 436.9C842.9 442.7 845.2 452.2 846.2 455.2"/>
<path class="t" d="M681.7 301.4C684.5 302.8 691.2 303.8 698.4 309.4C705.6 315.1 714 325.5 725.1 335.4C736.2 345.3 751.8 357.7 765.1 368.8C778.5 379.9 794.7 393.3 805.2 402.2C815.7 411.1 822.7 416.1 828.2 422.2C833.6 428.3 835.3 433.2 837.9 438.9C840.5 444.5 842.9 453.3 843.9 456.2"/>
<path class="t" d="M830.2 386.8L847.5 376.1"/>
<path class="t" d="M842.2 418.8L862.2 407.5"/>
</g>
<g id="34_flange">
<path class="wn" d="M702.3 941C697.4 941 684.4 954.4 680.6 958.6C676.9 962.8 667 977.8 664.4 983C661.8 988.1 655.9 1004.6 654.9 1010.1C654 1015.5 654.2 1032.5 654.9 1037.2C655.6 1041.8 659.4 1052.9 661.7 1056.1C664 1059.4 670.6 1065.6 677.9 1069.7C685.3 1073.7 724.5 1096.8 734.8 1096.8C745.1 1096.8 776.3 1084.8 780.9 1069.7C785.5 1054.5 784.2 955.5 780.9 945C777.6 934.5 753.5 963.2 748.4 964.5C743.2 965.9 734 960.9 729.4 958.6C724.8 956.2 707.2 941 702.3 941Z"/>
<path class="k" d="M702.3 941C698.7 943.9 687 951.6 680.6 958.6C674.3 965.6 668.7 974.4 664.4 983C660.1 991.5 656.5 1001 654.9 1010.1C653.3 1019.1 653.8 1029.5 654.9 1037.2C656 1044.8 660.5 1053 661.7 1056.1"/>
<path class="k" d="M726.7 958.6C724.4 961.7 717 970.8 713.2 977.5C709.3 984.3 705.9 992 703.7 999.2C701.4 1006.4 700.1 1015.3 699.6 1020.9C699.2 1026.5 700.7 1031.1 701 1033.1"/>
<path class="t" d="M723.5 957.2C721.2 960.4 713.7 969.4 709.9 976.2C706.1 983 702.9 990.7 700.7 998.1C698.5 1005.6 697.5 1017.1 696.9 1020.9"/>
<path class="w" d="M728.1 1113L728.1 1146.9L743 1152.3L759.2 1146.9L763.3 1134.7L763.3 1123.9Z"/>
<path class="t" d="M732.1 1115.7L732.1 1149.6"/>
<path class="t" d="M735.4 1115.7L735.4 1149.6"/>
<path class="t" d="M738.6 1115.7L738.6 1149.6"/>
<path class="t" d="M742.4 1115.7L742.4 1149.6"/>
<path class="t" d="M746.2 1115.7L746.2 1149.6"/>
<path class="t" d="M749.5 1115.7L749.5 1149.6"/>
<path class="t" d="M752.2 1115.7L752.2 1149.6"/>
<path class="t" d="M754.9 1115.7L754.9 1149.6"/>
<path class="k" d="M757.1 1123.9L757.1 1147.7L763.3 1134.7L763.3 1123.9Z" style="fill:#222"/>
<path class="k" d="M711.8 1104.9L728.1 1113"/>
<path class="t" d="M714.5 1110.3L728.1 1118.4"/>
<ellipse class="w" cx="817.5" cy="1020.4" rx="117.1" ry="79.1" transform="rotate(-70 817.5 1020.4)"/>
<ellipse class="w" cx="820.5" cy="1018.2" rx="117.1" ry="79.1" transform="rotate(-70 820.5 1018.2)"/>
<ellipse class="t" cx="821" cy="1017.9" rx="114.5" ry="76.5" transform="rotate(-70 821 1017.9)"/>
<ellipse class="k" cx="817.5" cy="1016.8" rx="68.3" ry="44.7" transform="rotate(-70 817.5 1016.8)"/>
<ellipse class="k" cx="819.4" cy="941.8" rx="3.8" ry="9.5" transform="rotate(10 819.4 941.8)"/>
<ellipse class="t" cx="820" cy="942.1" rx="2.4" ry="7.9" transform="rotate(10 820 942.1)"/>
<ellipse class="k" cx="867.1" cy="937.4" rx="3.8" ry="12.2" transform="rotate(40 867.1 937.4)"/>
<ellipse class="t" cx="867.7" cy="937.7" rx="2.4" ry="10.6" transform="rotate(40 867.7 937.7)"/>
<ellipse class="k" cx="886.6" cy="981.6" rx="3.3" ry="10.8" transform="rotate(72 886.6 981.6)"/>
<ellipse class="t" cx="887.2" cy="981.9" rx="1.9" ry="9.2" transform="rotate(72 887.2 981.9)"/>
<ellipse class="k" cx="867.1" cy="1047.5" rx="4.3" ry="8.1" transform="rotate(-55 867.1 1047.5)"/>
<ellipse class="t" cx="867.7" cy="1047.8" rx="3" ry="6.5" transform="rotate(-55 867.7 1047.8)"/>
<ellipse class="k" cx="819.4" cy="1098.1" rx="3.8" ry="10.3" transform="rotate(-5 819.4 1098.1)"/>
<ellipse class="t" cx="820" cy="1098.4" rx="2.4" ry="8.7" transform="rotate(-5 820 1098.4)"/>
<ellipse class="k" cx="772" cy="1102.2" rx="3.3" ry="11.4" transform="rotate(12 772 1102.2)"/>
<ellipse class="t" cx="772.6" cy="1102.5" rx="1.9" ry="9.8" transform="rotate(12 772.6 1102.5)"/>
<ellipse class="k" cx="772" cy="992.4" rx="5.5" ry="6.2"/>
<ellipse class="t" cx="772.8" cy="992" rx="3.6" ry="4.2"/>
<path class="k" d="M744.3 1037.2L840.5 973.5L845.9 972.1L862.2 988.4L863.8 1004.6"/>
<path class="t" d="M756.5 1035.8L841.9 978.9L856.8 993.8"/>
<path class="t" d="M840.5 973.5L841.9 978.9"/>
<path class="k" d="M778.2 1037.2L783.6 1031.7"/>
<path class="w" d="M777.4 1042.6C777.6 1041.2 776.1 1038.2 780.9 1035C785.6 1031.7 843.7 996.4 848.6 993.8C853.6 991.2 854.8 995.2 855.4 996C856 996.8 857.5 1004.7 857.3 1006C857.1 1007.3 857.9 1011.5 853 1015.5C848.1 1019.5 788.6 1063.2 783.6 1066.4C778.6 1069.7 778.6 1064.9 778.2 1064.3C777.7 1063.6 776.9 1057.6 776.8 1056.1C776.8 1054.7 777.1 1044 777.4 1042.6Z"/>
<path class="k" d="M778.7 1062.1L854.1 1009.5" style="stroke-width:2"/>
<ellipse class="k" cx="794.4" cy="1042" rx="4.6" ry="5.1" transform="rotate(20 794.4 1042)"/>
<ellipse class="k" cx="848.6" cy="1010.9" rx="4.6" ry="5.1" transform="rotate(20 848.6 1010.9)"/>
<path class="t" d="M738.9 1045.3L863.8 969.4"/>
<path class="k" d="M737.5 1094.1L780.9 1069.7"/>
</g>
<g id="36_leftpanel">
<path class="wn" d="M246.8 640L340.8 640L340.8 1348.5L246.8 1160Z"/>
<path class="k" d="M221.7 198L218 1570"/>
<path class="k" d="M229.3 202L226.5 1587"/>
<path class="k" d="M246.8 677L246.8 1157"/>
<path class="k" d="M340.8 1116.7L340.8 1348.5"/>
<path class="k" d="M238.4 1131.7L245.1 1135L245.1 1161.7L238.4 1160.1Z"/>
<path class="k" d="M245.1 1158.4C243.8 1161.4 239.5 1168.7 237.4 1176.7C235.3 1184.8 232.8 1196.2 232.4 1206.8C232 1217.3 233 1229.6 235.1 1240.1C237.2 1250.7 240.4 1260.1 245.1 1270.1C249.8 1280.2 256.5 1291 263.4 1300.2C270.4 1309.3 278.5 1317.5 286.8 1325.2C295.1 1332.9 306 1340.6 313.5 1346.2C321 1351.8 328.8 1356.5 331.8 1358.5"/>
<path class="t" d="M241.1 1183.4C240.4 1187.9 236.9 1200.1 236.8 1210.1C236.6 1220.1 237.8 1232.9 240.1 1243.5C242.4 1254 245.9 1263.5 250.8 1273.5C255.6 1283.5 261.9 1294.1 269.1 1303.5C276.3 1313 286.1 1322.7 294.1 1330.2C302.2 1337.7 310.9 1343.4 317.5 1348.5C324.1 1353.7 330.8 1358.8 333.5 1360.9"/>
<path class="k" d="M246.8 1161.7C246.5 1167.6 245 1185.9 245.1 1196.7C245.2 1207.6 245.5 1216.8 247.4 1226.8C249.4 1236.8 252.4 1247.1 256.8 1256.8C261.1 1266.5 266.8 1276.3 273.5 1285.2C280.1 1294.1 289 1302.7 296.8 1310.2C304.6 1317.7 313.9 1325.1 320.2 1330.2C326.4 1335.3 330.7 1337.8 334.2 1340.9C337.6 1343.9 339.7 1347.3 340.8 1348.5"/>
<path class="t" d="M246.8 1200.1C247.3 1204.8 248 1219 250.1 1228.4C252.2 1237.9 255.1 1247.6 259.4 1256.8C263.8 1266 269.6 1275 276.1 1283.5C282.7 1291.9 291.2 1300.3 298.8 1307.5C306.4 1314.7 314.5 1321.3 321.5 1326.9C328.5 1332.4 337.6 1338.5 340.8 1340.9"/>
<path class="k" d="M330.2 1340.2L334.2 1346.9L334.2 1363.6L343.5 1365.2L345.5 1376.9L338.8 1380.9L333.5 1375.6L331.8 1358.5"/>
<ellipse class="t" cx="338.2" cy="1374.2" rx="2.6" ry="3.4"/>
<path class="w" d="M287.1 1362.4L298.1 1373.4L294.4 1388.1L334.8 1413.8L320.1 1443.1L320.1 1461.5L310.9 1465.2L263.2 1441.3Z"/>
<path class="t" d="M291.5 1369.8L269.5 1438.7L305.4 1457.8L320.1 1443.1"/>
<path class="t" d="M294.4 1388.1L290.7 1399.1L325.6 1419.3L334.8 1413.8"/>
<path class="t" d="M290.7 1399.1L274.2 1441.3"/>
<path class="t" d="M305.4 1457.8L310.9 1465.2"/>
<path class="k" d="M263.2 1441.3L265.1 1450.5L276.1 1545.8L294.4 1551.4L298.1 1545.8L301 1460.7"/>
<path class="t" d="M265.1 1450.5L273.1 1453.4L283.4 1547.7"/>
<path class="t" d="M273.1 1453.4L301 1463.3"/>
<path class="t" d="M252.6 1300.1L263.6 1646.7"/>
<path class="t" d="M260.7 1626.5L261.4 1649.3L265.8 1648.6"/>
<path class="wn" d="M236.7 400C236.3 411.6 237.5 475.9 237.9 494.8C238.4 513.8 240.7 571.5 241.5 589.7C242.3 607.8 245.3 662 246.2 676.2C247.2 690.4 249.7 720.4 251 731.9C252.3 743.4 257.5 781.7 259.3 791.2C261 800.7 266.6 820.8 268.8 826.7C270.9 832.7 277.5 846.1 280.6 850.5C283.7 854.8 295.8 867.5 299.6 870.6C303.4 873.7 314.7 879.7 318.5 881.3C322.3 882.8 333.7 885.4 337.5 886C341.3 886.6 352.2 887 356.5 887.2C360.7 887.4 376.6 889 380.2 888.4C383.7 887.8 390.6 882.7 392 881.3C393.5 879.8 394.2 874.9 394.4 874.2C394.6 873.4 393.7 878.9 394.4 874.2C395.1 869.4 399.9 841 401.5 826.7C403.2 812.5 409.3 755.6 411 731.9C412.7 708.2 417 615.7 418.1 589.7C419.2 563.6 421.2 489.6 421.7 471.1C422.1 452.6 421.8 410.3 422.9 404.7C423.9 399.1 432 414.7 432.5 415.1C433.1 415.5 430.1 409.8 428.5 408.4C427 407.1 419.7 402.9 416.8 401.8C414 400.7 404.5 398.5 400.2 397.4C395.8 396.3 378.8 392.2 373.5 390.7C368.1 389.3 351.5 384.6 346.8 382.7C342.1 380.8 329.4 373.5 326.8 371.7C324.2 370 321.9 366.9 320.8 365.1C319.6 363.2 316.8 355.5 315.1 353.4C313.4 351.2 305.7 345.4 303.4 343.4C301.2 341.3 294.2 334.2 292.7 332.7C291.2 331.2 290.7 327.3 288.4 328.4C286.1 329.4 273.6 340.2 270.1 343.4C266.6 346.5 256.1 356.5 253.4 360.1C250.6 363.6 244.4 374.4 242.7 378.4C241 382.4 237.2 388.4 236.7 400Z"/>
<path class="k" d="M288.4 328.4C285.3 330.9 275.9 338.1 270.1 343.4C264.2 348.7 257.9 354.2 253.4 360.1C248.8 365.9 245.5 371.7 242.7 378.4C239.9 385.1 237.5 380.6 236.7 400C236 419.4 237.1 463.2 237.9 494.8C238.7 526.4 240.1 559.4 241.5 589.7C242.9 619.9 244.6 652.5 246.2 676.2C247.8 699.9 248.8 712.7 251 731.9C253.1 751.1 256.3 775.4 259.3 791.2C262.2 807 265.2 816.9 268.8 826.7C272.3 836.6 275.5 843.1 280.6 850.5C285.7 857.8 293.3 865.5 299.6 870.6C305.9 875.7 312.2 878.7 318.5 881.3C324.9 883.8 331.2 885 337.5 886C343.8 887 349.4 886.8 356.5 887.2C363.6 887.6 374.3 889.4 380.2 888.4C386.1 887.4 389.7 883.6 392 881.3C394.4 878.9 394 875.3 394.4 874.2"/>
<path class="k" d="M394.4 874.2C395.6 866.3 398.8 850.5 401.5 826.7C404.3 803 408.2 771.4 411 731.9C413.8 692.4 416.3 633.1 418.1 589.7C419.9 546.2 420.9 501.9 421.7 471.1C422.5 440.3 421 414.1 422.9 404.7C424.7 395.4 430.9 413.4 432.5 415.1"/>
<path class="t" d="M239.8 400C240 415.8 240.2 463.2 241 494.8C241.8 526.4 243.2 559.4 244.6 589.7C246 619.9 247.7 652.5 249.3 676.2C250.9 699.9 251.9 712.9 254.1 731.9C256.2 750.9 259.2 774.5 262.1 790C265 805.5 268.1 815.2 271.6 824.8C275.1 834.4 278 840.5 283 847.6C288 854.7 295.3 862.5 301.5 867.5C307.6 872.5 313.6 875.2 319.7 877.7C325.8 880.2 332.6 881.5 338 882.5C343.3 883.4 349.4 883.4 351.7 883.6"/>
<path class="k" d="M399.1 421.3C397.2 422.9 391.2 426.5 387.3 430.8C383.3 435.2 378.3 441.5 375.4 447.4C372.6 453.3 371.1 460.9 370.2 466.4C369.4 471.9 370.3 468 370.2 480.6C370.1 493.3 370.2 516.2 369.5 542.2C368.8 568.3 367.3 605.5 366 637.1C364.6 668.7 363 702.3 361.2 731.9C359.4 761.5 356.9 795.1 355.3 814.9C353.7 834.6 352.5 841 351.7 850.5C350.9 859.9 350.2 866.3 350.5 871.8C350.9 877.3 353.5 881.7 354.1 883.6"/>
<path class="t" d="M403.9 428.4C402 430 396.3 433.8 392.5 437.9C388.8 442.1 384.1 448 381.4 453.3C378.6 458.7 376.9 465 375.9 469.9C374.9 474.9 375.7 470.9 375.4 483C375.2 495 375 516.6 374.3 542.2C373.5 567.9 372.1 605.5 370.7 637.1C369.3 668.7 367.7 702.3 366 731.9C364.2 761.5 361.6 795.1 360 814.9C358.4 834.6 357.2 841 356.5 850.5C355.7 859.9 355.7 868.2 355.5 871.8"/>
<path class="t" d="M407.4 435.6C407.2 453.3 407 508.7 406.3 542.2C405.5 575.8 404.3 601.5 402.7 637.1C401.1 672.6 398.8 720.1 396.8 755.6C394.8 791.2 392 829.9 390.8 850.5C389.7 871 389.9 874.2 389.7 878.9"/>
<path class="k" d="M248.6 468.8C248.8 467.9 249 464.9 249.8 463.5C250.6 462.2 252 460.7 253.3 460.5C254.7 460.2 257.3 461.8 258.1 462.1"/>
<path class="k" d="M258.1 462.1L339.9 510.2"/>
<path class="k" d="M339.9 510.2C341.1 511.6 345.9 514.8 347.5 518.5C349 522.3 349.2 520.9 349.4 532.8C349.5 544.6 349.4 568.3 348.2 589.7C347 611 345.2 637.9 342.2 660.8C339.3 683.7 334.7 709.8 330.4 727.2C326 744.6 320.5 757.1 316.2 765.1C311.8 773.1 308.3 773.9 304.3 775.1C300.4 776.2 296.8 775.5 292.5 772.2C288.1 769 282.6 766.3 278.2 755.6C273.9 745 269.9 728 266.4 708.2C262.8 688.4 259.5 664.7 256.9 637.1C254.3 609.4 252.4 570.3 251 542.2C249.6 514.2 249 481 248.6 468.8"/>
<path class="k" d="M256.9 467.6C257.3 480 257.3 519.9 259.3 542.2C261.2 564.6 265.2 583.7 268.8 601.5C272.3 619.3 276.3 635.1 280.6 648.9C285 662.8 290.5 676.8 294.8 684.5C299.2 692.2 303.1 694 306.7 695.2C310.2 696.3 312.6 695.4 316.2 691.6C319.7 687.9 324.1 681.7 328 672.6C332 663.6 337 650.9 339.9 637.1C342.7 623.2 343.9 605.5 345.1 589.7C346.3 573.9 346.8 553.7 347 542.2C347.1 530.8 346.2 524.5 346 520.9"/>
<path class="t" d="M256.9 467.6L341.3 516.6"/>
<path class="t" d="M251.7 471.1C252.1 483 252.7 514.6 254.1 542.2C255.4 569.9 257.3 609.8 259.7 637.1C262.2 664.3 265.4 686.7 268.8 705.8C272.2 725 276.1 741.6 280.1 752.1C284.2 762.5 290.8 765.9 292.9 768.7"/>
<path class="k" d="M279.4 500L325.7 524.5L325.7 606.7L279.4 580.2Z"/>
<path class="k" d="M273.5 788.8C273.9 787 273.5 786 277.1 787.6C280.6 789.2 287.1 793.7 294.8 798.3C302.5 802.8 317.6 810.9 323.3 814.9C329 818.8 328.4 818.8 329.2 822C330 825.2 329 830.7 328 833.9C327 837 326 839.7 323.3 841C320.5 842.2 316.2 842.8 311.4 841.4C306.7 840.1 300 837.1 294.8 832.7C289.7 828.2 284 820.6 280.6 814.9C277.2 809.2 275.9 802.6 274.7 798.3C273.5 793.9 273.1 790.6 273.5 788.8Z"/>
<path class="t" d="M277.1 793.6C279.9 793.9 287.5 798.9 294.8 803C302.1 807.2 315.8 814.9 320.9 818.4C326 822 325.1 821.9 325.7 824.4C326.2 826.9 325.3 831.2 324.5 833.4C323.7 835.6 323.1 836.9 320.9 837.6C318.7 838.4 315.5 839 311.4 837.6C307.4 836.3 301.4 833.6 296.7 829.6C292.1 825.6 286.6 818.5 283.5 813.7C280.3 808.9 278.8 804 277.8 800.7C276.7 797.3 274.2 793.2 277.1 793.6Z"/>
<path class="w" d="M411.9 733.4L413.5 916.9L423.6 926.9L423.6 735.1Z"/>
<path class="k" d="M341.8 890.9L341.8 1020.3"/>
<path class="t" d="M368.8 931.6L373.5 933.6L376.2 938.3L372.2 937.6L368.8 931.6"/>
<path class="t" d="M368.8 968.3L373.5 970.3L376.2 975L372.2 974.3L368.8 968.3"/>
</g>
<g id="37_podtop">
<path class="k" d="M446.7 260C446.2 261.4 445.1 266.2 443.8 268.4C442.5 270.6 439.8 272.4 439 273.2"/>
<path class="t" d="M443.4 258.9C442.9 260.1 442 264.2 440.7 266.2C439.4 268.1 436.5 269.8 435.7 270.6"/>
<path class="k" d="M430.2 266.6L317.9 352.5"/>
<path class="k" d="M439 273.2L324.5 362.4"/>
<path class="t" d="M430.2 266.6L439 273.2"/>
<path class="k" d="M470 288.6L398.9 337.5"/>
<path class="t" d="M470 292.6L401.5 340.4"/>
<path class="k" d="M324.5 299.6L289.7 323.8"/>
<path class="k" d="M289.7 323.8C290.2 324.9 288.2 325.7 292.6 330.4C296.9 335.2 310.7 346.2 315.7 352.5C320.6 358.7 317.1 362.7 322.3 367.9C327.4 373 337.3 379.2 346.5 383.3C355.7 387.3 367 389.2 377.3 392.1C387.6 395 400.4 398.7 408.1 400.9C415.8 403.1 419.9 403.5 423.5 405.3C427.2 407.1 428.6 410 430.2 411.9C431.7 413.8 432.4 415.9 432.8 416.7" style="stroke-width:2.1"/>
<path class="t" d="M291.5 323.4C292 324.4 290.2 324.9 294.5 329.6C298.9 334.2 312.5 345.1 317.4 351.1C322.4 357.2 319 361.1 324 366.1C329.1 371.2 338.8 377.5 347.8 381.5C356.8 385.6 368.1 387.4 378.2 390.3C388.3 393.3 400.9 396.9 408.6 399.1C416.3 401.3 420.5 401.6 424.4 403.5C428.3 405.4 429.5 408.4 431.9 410.6C434.3 412.8 437.8 415.7 439 416.7"/>
<path class="k" d="M289.7 323.8L287.1 328.2"/>
<path class="k" d="M315.7 352.5C310.9 356.5 294.4 368.6 287.1 376.7C279.7 384.8 275.1 393.2 271.6 400.9C268.2 408.6 266.9 416.3 266.1 422.9C265.4 429.5 266 435.4 267.2 440.5C268.5 445.7 272.7 451.5 273.8 453.7"/>
<path class="k" d="M273.8 453.7L320.1 478.4"/>
<path class="k" d="M320.1 478.4C320.7 478.1 323.3 480.2 324 476.9C324.8 473.5 322.9 465.7 324.5 458.1C326 450.6 329.6 439.4 333.3 431.7C337 424 339.9 418.5 346.5 411.9C353.1 405.3 368.5 395.4 372.9 392.1"/>
<path class="k" d="M322.3 369C318.2 372.1 304.5 380.9 298.1 387.7C291.6 394.5 286.9 403.1 283.8 409.7C280.6 416.3 279.9 422.2 279.3 427.3C278.8 432.5 279.3 437.2 280.4 440.5C281.5 443.8 285 446 286 447.1"/>
<path class="k" d="M286 447.1L321.2 467.4"/>
<path class="t" d="M321.2 467.4C321.8 467.1 323.9 468.5 324.9 465.8C325.9 463.2 325.3 457.8 327.1 451.5C329 445.3 332.3 435.4 335.9 428.4C339.6 421.4 344.3 415 349.1 409.7C354 404.5 362.5 399.1 365.2 396.9"/>
<path class="t" d="M266.1 422.9L279.3 423.4"/>
<path class="t" d="M267.7 442.7L280.4 440.5"/>
<path class="t" d="M273.8 453.7L286 447.1"/>
<path class="t" d="M320.1 478.4L321.2 467.4"/>
<path class="t" d="M287.1 376.7L298.1 387.7"/>
<path class="t" d="M346.5 383.3C345.4 386.2 340.6 395.8 339.9 400.9C339.2 406 341.7 411.9 342.1 414.1"/>
<path class="k" d="M430.2 411.9C428 413.7 421.7 417.8 416.9 422.9C412.2 428 406.7 435.4 401.5 442.7C396.4 450.1 388.7 462.9 386.1 466.9" style="stroke-width:2.4"/>
<path class="k" d="M398.2 422.9C395.8 426.2 387.8 436.1 383.9 442.7C380.1 449.3 376.9 456.3 375.1 462.5C373.3 468.7 373.3 477 372.9 479.9"/>
<path class="t" d="M403.7 427.3C401.5 430.3 394.2 438.7 390.5 444.9C386.9 451.2 383.4 458.9 381.7 464.7C380.1 470.6 380.8 477.4 380.6 479.9"/>
<path class="k" d="M398.2 422.9L403.7 427.3L408.1 433.9L408.1 479.9"/>
<path class="t" d="M372.9 474.6L408.1 464.7"/>
<path class="k" d="M376.2 352.5C376 351.3 374.4 347.5 374.7 345.4C374.9 343.4 375.8 341.5 377.8 340.1C379.7 338.7 383.3 337.1 386.1 337.1C388.9 337 392.7 338.4 394.5 339.7C396.3 341 396.7 343.9 397.1 344.8"/>
<path class="k" d="M376.2 352.5L379.5 383.3"/>
<path class="k" d="M397.1 344.8L396 382.2"/>
<path class="k" d="M346.5 378.9L376.2 354.7"/>
<path class="t" d="M350.9 380L374 361.7L377.3 383.3"/>
<ellipse class="k" cx="387.2" cy="387" rx="6.2" ry="4.2"/>
<ellipse class="t" cx="387.2" cy="387" rx="3.6" ry="2.4"/>
<path class="t" d="M379.5 383.3C379.9 384.7 379.5 390.2 381.7 391.7C383.9 393.1 390.3 393.7 392.7 392.1C395.1 390.5 395.5 383.8 396 382.2"/>
<path class="k" d="M396 384.4C398 385.7 403.9 389.3 408.1 392.1C412.4 394.8 417.7 398 421.3 400.9C425 403.8 428.7 408.2 430.2 409.7"/>
<path class="w" d="M413.8 468.3L413.8 441.6L413.8 441.6C414.1 440.7 414.7 437.9 415.6 435.7C416.5 433.5 417.5 431 419.1 428.6C420.7 426.2 422.9 423.7 425 421.5C427.2 419.3 431 416.5 432.2 415.6L439.3 415.6L439.9 417.9L432.2 420.3L432.2 420.3C431.2 421.3 427.9 424.3 426.2 426.2C424.6 428.2 423 429.6 422.1 432.2C421.1 434.7 420.8 440.1 420.5 441.6L420.9 468.3Z"/>
<path class="k" d="M432.2 420.3C431.3 421.2 428.4 423.7 426.8 425.6C425.3 427.6 423.8 429.5 422.9 432.2C422 434.8 421.7 440.1 421.5 441.6" style="stroke-width:2.4"/>
<path class="t" d="M416.7 435.7L420.3 436.9"/>
<path class="k" d="M426.2 429.8L434.5 432.2L436.9 435.7L429.8 441.6L424.1 442.8"/>
<path class="k" d="M421.5 465.3L421.5 546"/>
<path class="t" d="M380 480.8L412 468.3"/>
</g>
<g id="40_ring">
<path class="wn" d="M220.1 643.4C216 642.4 206 659 203.4 663.4C200.7 667.7 195.4 681.4 193.4 686.7C191.4 692.1 185 712.4 183.4 716.7C181.7 721.1 173.8 727.6 176.7 730.1C179.5 732.6 208.1 735.9 211.8 741.7C215.5 747.5 211.5 780.5 213.5 788.4C215.5 796.2 230.7 818.3 231.7 820.2C232.7 822 224.9 811.2 223.4 806.8C221.9 802.5 217.5 782.8 216.7 776.8C215.9 770.8 214.7 753.1 215 746.8C215.4 740.4 218.5 719.4 220.1 713.4C221.6 707.4 227.7 690.7 230.1 686.7C232.4 682.7 244.4 677.7 243.4 673.4C242.4 669 224.1 644.4 220.1 643.4Z"/>
<path class="k" d="M220.1 643.4C217.3 646.7 207.8 656.1 203.4 663.4C198.9 670.6 196.7 677.8 193.4 686.7C190 695.6 186.1 709.5 183.4 716.7C180.6 724 177.8 727.9 176.7 730.1"/>
<path class="k" d="M243.4 673.4C241.2 675.6 234 680.1 230.1 686.7C226.2 693.4 222.6 703.4 220.1 713.4C217.5 723.4 215.6 736.2 215 746.8C214.5 757.3 215.3 766.8 216.7 776.8C218.1 786.8 220.9 799.6 223.4 806.8C225.9 814.1 230.3 817.9 231.7 820.2"/>
<path class="t" d="M247.4 676.7C245.2 678.8 238 683 234.1 689.4C230.2 695.8 226.6 705.4 224.1 715.1C221.6 724.8 219.6 737.2 219 747.4C218.5 757.7 219.4 767.2 220.7 776.8C222 786.4 224.5 798.4 226.7 805.2C228.9 811.9 232.8 815.4 234.1 817.5"/>
<path class="k" d="M221.7 823.5L220.1 840.2L226.7 853.5L236.7 860.2L236.7 836.8L243.4 833.5"/>
<path class="t" d="M225.1 825.2C224.9 827.4 223.3 834.3 224.1 838.5C224.8 842.7 227.3 847.4 229.4 850.2C231.5 853 235.5 854.4 236.7 855.2"/>
<path class="wn" d="M183.5 728.3C179 724.3 164.8 737.2 160.1 740C155.4 742.8 132 757.8 126.8 761.7C121.5 765.6 101.7 782.4 96.7 786.7C91.7 791 70.3 810.4 66.7 813.4C63.1 816.5 55.2 822.3 53.4 823.4C51.6 824.5 46.1 825.8 45 826.8C44 827.7 41.3 831.5 40.7 835.1C40 838.7 37.7 864.1 37.3 870.1C37 876.1 35.9 902 36 906.8C36.1 911.7 37 925.4 38.3 928.5C39.7 931.6 46.3 940.2 51.7 944.2C57.1 948.2 92.1 970 103.4 976.9C114.7 983.8 173.2 1018.8 186.8 1026.9C200.4 1035 254.4 1066.8 266.9 1074C279.4 1081.2 326.7 1107.9 336.7 1113.4C346.7 1119 379.8 1136.7 386.8 1140.1C393.7 1143.6 416 1153.3 420.1 1155.1C424.3 1157 433.7 1161 436.8 1161.8C439.9 1162.7 448.5 1165 456.8 1165.2C465.2 1165.3 528.1 1163.4 536.9 1163.5C545.7 1163.5 559.1 1165.7 562.7 1165.6C566.2 1165.6 574.9 1164.2 579.3 1162.6C583.6 1160.9 607.9 1149.3 614.8 1146C621.7 1142.6 654.3 1126.1 662.2 1122.2C670.2 1118.4 703.6 1102.5 709.7 1099.7C715.7 1097 732.2 1090 734.6 1089.1C736.9 1088.1 737.3 1091 737.6 1087.9C737.9 1084.7 738.4 1054.9 738.1 1051.1C737.9 1047.3 736.9 1043.9 734.6 1042.1C732.2 1040.4 712.9 1030.7 709.7 1030.3C706.4 1029.8 699.4 1035 695.4 1036.9C691.5 1038.8 669 1049.9 662.2 1053.5C655.5 1057.1 622.5 1075.4 614.8 1079.6C607.1 1083.7 575.1 1100.8 569.8 1103.3C564.5 1105.8 555 1109.1 550.8 1109.9C546.7 1110.7 523.9 1112.3 520 1112.8C516.1 1113.2 508.8 1114.8 503.5 1115.1C498.3 1115.4 462.1 1116.9 456.8 1116.8C451.5 1116.6 444.6 1115.1 440.1 1113.4C435.7 1111.8 412.1 1101.2 403.4 1096.8C394.8 1092.3 347.8 1066.5 336.7 1060.1C325.6 1053.7 279.2 1025.3 270 1020C260.8 1014.8 241 1004.4 226.8 996.9C212.7 989.4 111.7 936.6 100.1 930.2C88.4 923.8 88.5 922.1 86.7 920.2C84.9 918.2 79.4 909.6 78.4 906.8C77.4 904 75.2 890.1 75 886.8C74.9 883.5 74.4 869.4 76.7 866.8C79.1 864.1 98.4 857.8 103.4 855.1C108.4 852.5 130.4 839 136.8 835.1C143.2 831.2 173.7 812.3 180.1 808.4C186.5 804.5 213.2 795.1 213.5 788.4C213.8 781.7 187.9 732.4 183.5 728.3Z"/>
<path class="k" d="M183.5 728.3C181.1 729.5 165.8 736.7 160.1 740C154.4 743.4 133.1 757 126.8 761.7C120.4 766.4 102.7 781.6 96.7 786.7C90.7 791.9 71 809.7 66.7 813.4C62.4 817.1 55.5 822.1 53.4 823.4C51.2 824.8 46.3 825.6 45 826.8C43.8 827.9 41.5 830.8 40.7 835.1C39.9 839.4 37.8 863 37.3 870.1C36.9 877.3 35.9 901 36 906.8C36.1 912.7 36.8 924.8 38.3 928.5C39.9 932.2 45.2 939.3 51.7 944.2C58.2 949 89.9 968.6 103.4 976.9C116.9 985.2 170.5 1017.2 186.8 1026.9C203.2 1036.6 251.9 1065.3 266.9 1074C281.9 1082.6 324.7 1106.8 336.7 1113.4C348.7 1120.1 378.4 1136 386.8 1140.1C395.1 1144.3 415.1 1153 420.1 1155.1C425.1 1157.3 433.1 1160.8 436.8 1161.8C440.5 1162.8 446.8 1165 456.8 1165.2C466.8 1165.3 526.3 1163.4 536.9 1163.5C547.5 1163.5 558.4 1165.7 562.7 1165.6C566.9 1165.5 574.1 1164.5 579.3 1162.6C584.5 1160.6 606.5 1150 614.8 1146C623.1 1141.9 652.8 1126.9 662.2 1122.2C671.7 1117.6 702.4 1103 709.7 1099.7C716.9 1096.4 732.1 1090.1 734.6 1089.1"/>
<path class="k" d="M734.6 1089.1L737.6 1087.9L738.1 1051.1L734.6 1042.1L709.7 1030.3"/>
<path class="k" d="M695.4 1036.9C692.1 1038.6 670.3 1049.2 662.2 1053.5C654.2 1057.8 624.1 1074.6 614.8 1079.6C605.6 1084.6 576.2 1100.2 569.8 1103.3C563.4 1106.3 555.8 1109 550.8 1109.9C545.8 1110.9 524.7 1112.2 520 1112.8C515.3 1113.3 509.8 1114.7 503.5 1115.1C497.2 1115.5 463.2 1116.9 456.8 1116.8C450.5 1116.6 445.5 1115.4 440.1 1113.4C434.8 1111.4 413.8 1102.1 403.4 1096.8C393.1 1091.4 350.1 1067.7 336.7 1060.1C323.4 1052.4 281 1026.4 270 1020C259 1013.7 243.8 1005.9 226.8 996.9C209.8 987.9 114.1 937.8 100.1 930.2C86.1 922.5 88.9 922.5 86.7 920.2C84.6 917.8 79.5 910.2 78.4 906.8C77.2 903.5 75.2 890.8 75 886.8C74.9 882.8 76.5 868.8 76.7 866.8"/>
<path class="k" d="M85.1 835.1C84.2 837 81.4 841.5 80.1 846.8C78.7 852.1 77.3 863.5 76.7 866.8"/>
<path class="k" d="M76.7 866.8C81.2 864.8 93.4 860.4 103.4 855.1C113.4 849.8 124 842.9 136.8 835.1C149.6 827.3 167.3 816.2 180.1 808.4C192.9 800.6 207.9 791.7 213.5 788.4" style="stroke-width:1.9"/>
<path class="t" d="M213.5 785.1C207.4 788.4 190.1 797.4 176.8 805.1C163.5 812.7 146.2 823.3 133.4 831.1C120.6 838.9 108.4 846.7 100.1 851.8C91.7 856.9 86.2 860.1 83.4 861.8"/>
<path class="t" d="M186.8 735C182.9 737.1 172.6 741.8 163.5 747.4C154.3 752.9 142 760.8 131.8 768.4C121.5 775.9 111.2 784.4 101.7 792.7C92.3 801.1 79.8 813.3 75 818.4C70.3 823.5 73.7 822.6 73.4 823.4"/>
<path class="k" d="M211.8 741.7C206.5 744.7 191 753.4 180.1 760C169.3 766.7 157.9 774.2 146.8 781.7C135.7 789.2 124 797.3 113.4 805.1C102.8 812.9 88.4 824.5 83.4 828.4"/>
<path class="k" d="M213.5 748.4C208.5 751.1 194 758.6 183.5 765C172.9 771.4 161.2 779.2 150.1 786.7C139 794.2 127.6 802.3 116.7 810.1C105.9 817.9 90.3 829.5 85.1 833.4"/>
<path class="t" d="M193.5 738.3L191.8 796.7"/>
<path class="t" d="M211.8 741.7L212.8 788.4"/>
<path class="k" d="M45 826.8L73.4 823.4L81.7 831.8L85.1 835.1"/>
<path class="t" d="M75 836.8C74.8 842.3 74.2 859.6 73.4 870.1C72.5 880.7 70.6 895.1 70 900.2"/>
<path class="k" d="M38.3 906.8L53.4 916.8L70 901.8L100.1 920.2"/>
<path class="t" d="M36.7 893.5L53.4 902.8L68.4 891.8"/>
<path class="k" d="M53.4 916.8L51.7 944.2"/>
<path class="t" d="M53.4 902.8L53.4 916.8"/>
<path class="t" d="M45 830.1C44.5 836.8 42.7 859.6 42 870.1C41.3 880.7 40.9 889.6 40.7 893.5"/>
<path class="t" d="M100 935.6L432 1115.4"/>
<path class="k" d="M100 940.1L432 1120.7"/>
<path class="t" d="M100 946.3L432 1128"/>
<path class="t" d="M60 930.6L425 1131.6"/>
<path class="t" d="M60 943.7L425 1147.3"/>
<path class="t" d="M60 948.1L425 1152.6"/>
<ellipse class="k" cx="107.4" cy="967.5" rx="3.6" ry="8.6" transform="rotate(-8 107.4 967.5)"/>
<ellipse class="t" cx="108.2" cy="967.8" rx="2.2" ry="6.6" transform="rotate(-8 108.2 967.8)"/>
<ellipse class="k" cx="146.8" cy="991.9" rx="3.6" ry="8.6" transform="rotate(-8 146.8 991.9)"/>
<ellipse class="t" cx="147.6" cy="992.2" rx="2.2" ry="6.6" transform="rotate(-8 147.6 992.2)"/>
<ellipse class="k" cx="188.5" cy="1016.9" rx="3.6" ry="8.6" transform="rotate(-8 188.5 1016.9)"/>
<ellipse class="t" cx="189.3" cy="1017.2" rx="2.2" ry="6.6" transform="rotate(-8 189.3 1017.2)"/>
<ellipse class="k" cx="229.5" cy="1040.9" rx="3.6" ry="8.6" transform="rotate(-8 229.5 1040.9)"/>
<ellipse class="t" cx="230.3" cy="1041.2" rx="2.2" ry="6.6" transform="rotate(-8 230.3 1041.2)"/>
<ellipse class="k" cx="271.9" cy="1063.6" rx="3.6" ry="8.6" transform="rotate(-8 271.9 1063.6)"/>
<ellipse class="t" cx="272.7" cy="1063.9" rx="2.2" ry="6.6" transform="rotate(-8 272.7 1063.9)"/>
<ellipse class="k" cx="314.4" cy="1086.1" rx="3.6" ry="8.6" transform="rotate(-8 314.4 1086.1)"/>
<ellipse class="t" cx="315.2" cy="1086.4" rx="2.2" ry="6.6" transform="rotate(-8 315.2 1086.4)"/>
<ellipse class="k" cx="357.4" cy="1108.4" rx="3.6" ry="8.6" transform="rotate(-8 357.4 1108.4)"/>
<ellipse class="t" cx="358.2" cy="1108.7" rx="2.2" ry="6.6" transform="rotate(-8 358.2 1108.7)"/>
<path class="t" d="M250.2 1015.2L233.5 1025.3L235.2 1053.6"/>
<path class="t" d="M100.1 930.2L110.1 925.2"/>
<path class="k" d="M441.8 1113.4C439.6 1115.1 431.6 1119.6 428.5 1123.5C425.3 1127.3 423.6 1131.2 422.8 1136.8C422 1142.4 423.4 1153.5 423.5 1156.8" style="stroke-width:2"/>
<path class="t" d="M445.1 1114.8C443 1116.4 435.2 1121 432.1 1124.8C429.1 1128.6 427.6 1131.9 426.8 1137.5C426 1143 427.4 1154.7 427.5 1158.1"/>
<path class="k" d="M443.5 1135.1C442.6 1136 439.6 1137.6 438.5 1140.1C437.4 1142.6 436.5 1146.8 436.8 1150.1C437.1 1153.5 439.6 1158.5 440.1 1160.2"/>
<path class="k" d="M443.5 1135.1L563.6 1131.8"/>
<path class="t" d="M438.5 1140.1L563.6 1136.8"/>
<path class="t" d="M440.1 1160.2L563.6 1159.5"/>
<path class="t" d="M456.8 1116.8L443.5 1135.1"/>
<path class="t" d="M450.2 1115.1L438.5 1140.1"/>
<path class="t" d="M470.2 1116.4L456.8 1134.1"/>
<path class="k" d="M563.6 1110.1L563.6 1163.5"/>
<path class="k" d="M570.3 1106.1C571.9 1108.4 578.1 1115 580.3 1120.1C582.4 1125.2 582.4 1130.7 582.9 1136.8C583.5 1142.9 583.5 1153.5 583.6 1156.8"/>
<path class="k" d="M569.8 1106.8C571.8 1110.2 579.9 1117.7 581.6 1127C583.4 1136.3 580.7 1156.6 580.5 1162.6"/>
<path class="t" d="M550.8 1109.9C552.8 1113.6 560.6 1122.4 562.7 1131.7C564.7 1141 563.1 1160 563.1 1165.6"/>
<path class="k" d="M581.6 1127L723.9 1052.3"/>
<path class="t" d="M581.2 1134.1L727.4 1058.7"/>
<path class="t" d="M573.3 1109.2L697.8 1042.1"/>
<path class="k" d="M696.6 1039.3L721.5 1051.1L727.4 1058.2L728.6 1091.4"/>
<path class="k" d="M709.7 1030.3L695.4 1036.9"/>
</g>
</svg>
</body></html>
